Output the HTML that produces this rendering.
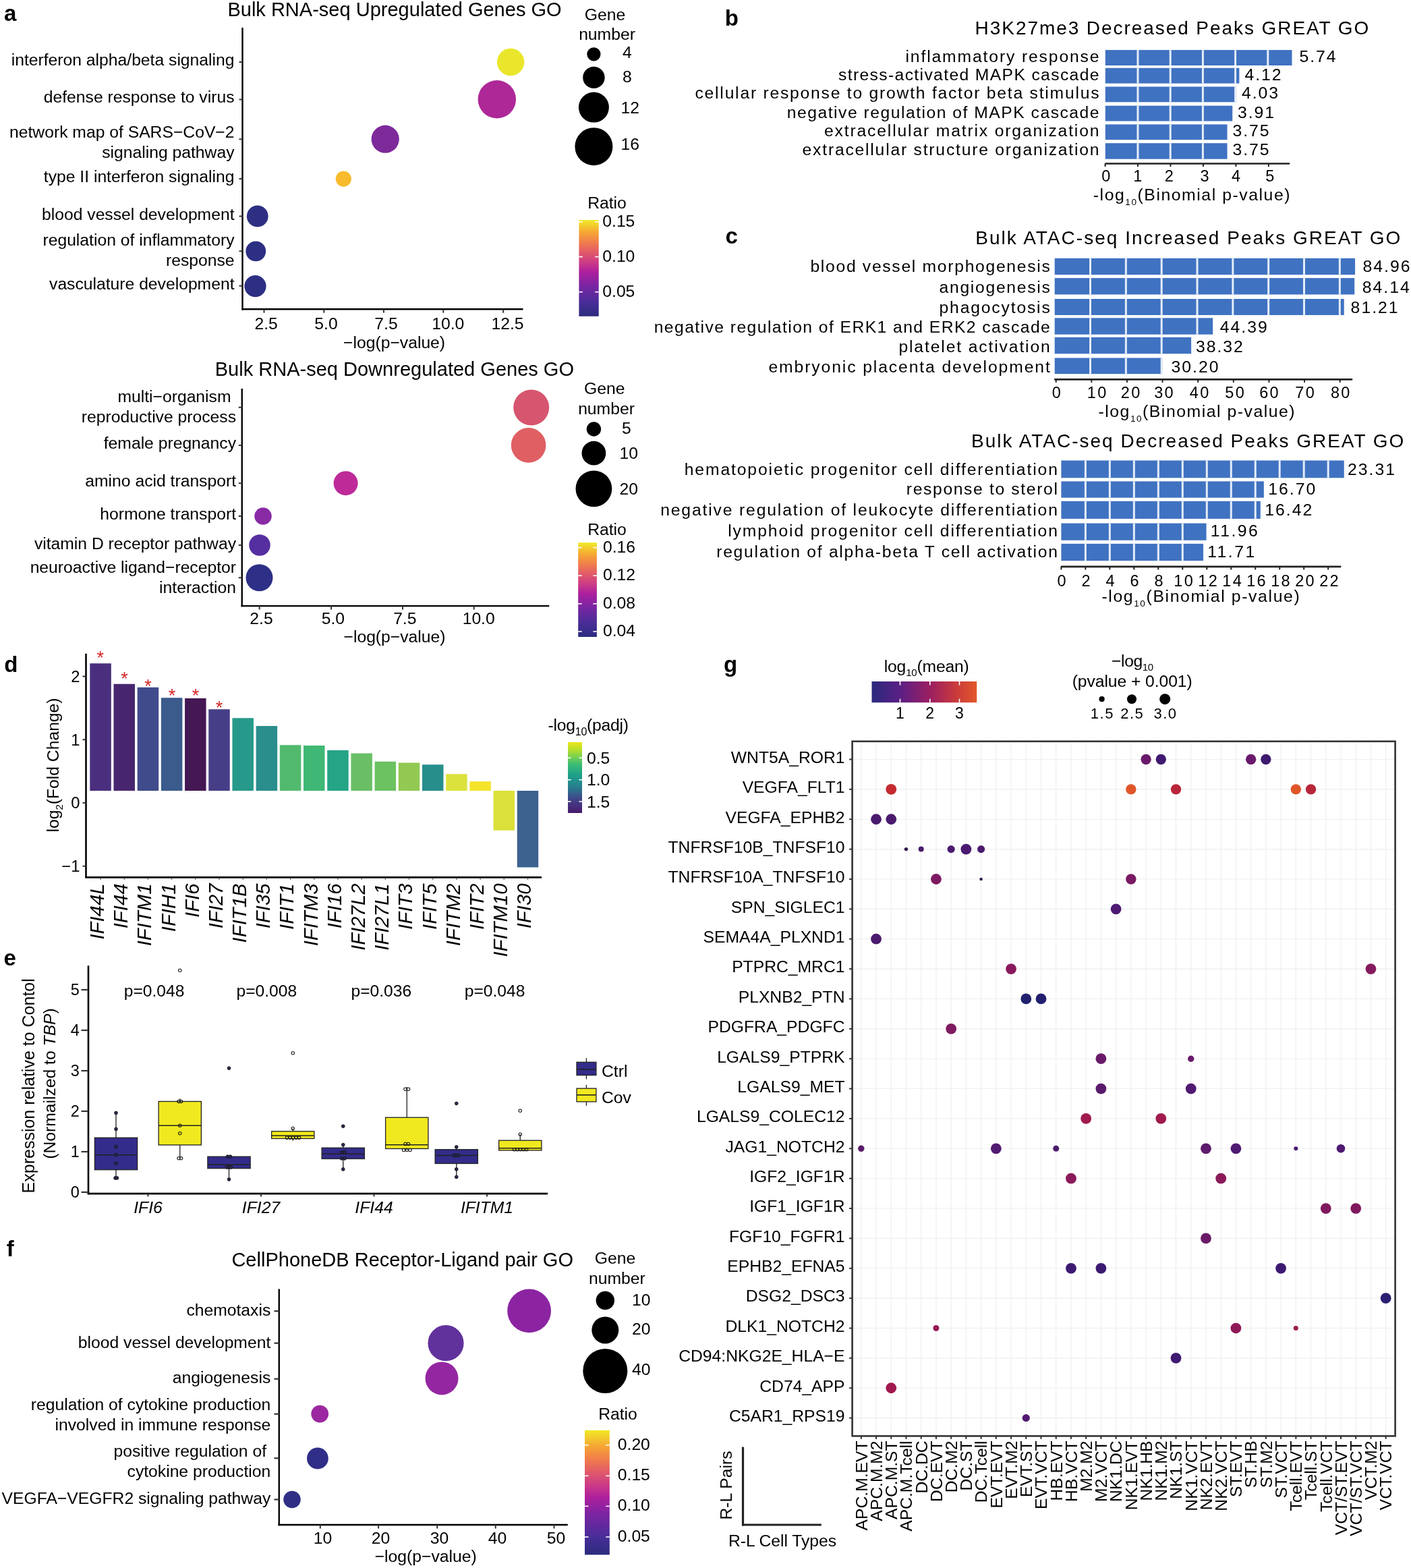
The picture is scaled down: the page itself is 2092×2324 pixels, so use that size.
<!DOCTYPE html>
<html><head><meta charset="utf-8"><title>Figure</title>
<style>
html,body{margin:0;padding:0;background:#fff;}
svg{display:block;}
</style></head>
<body>
<svg width="2092" height="2324" viewBox="0 0 2092 2324" font-family="'Liberation Sans', Arial, Helvetica, sans-serif" font-size="24.7" fill="#000" style="font-variant-ligatures:none;font-kerning:normal">
<rect width="2092" height="2324" fill="#fff"/>
<defs>
<linearGradient id="gRatio" x1="0" y1="1" x2="0" y2="0">
<stop offset="0" stop-color="#2b2c7e"/><stop offset="0.15" stop-color="#4a2d98"/>
<stop offset="0.32" stop-color="#7a25a2"/><stop offset="0.46" stop-color="#ae1f9e"/>
<stop offset="0.56" stop-color="#cc3b87"/><stop offset="0.66" stop-color="#e0586a"/>
<stop offset="0.76" stop-color="#f07a4e"/><stop offset="0.87" stop-color="#f6a535"/>
<stop offset="1" stop-color="#f0ea26"/></linearGradient>
<linearGradient id="gViridis" x1="0" y1="0" x2="0" y2="1">
<stop offset="0" stop-color="#eee520"/><stop offset="0.11" stop-color="#b5de2b"/>
<stop offset="0.226" stop-color="#6cce59"/><stop offset="0.319" stop-color="#3bbb75"/>
<stop offset="0.445" stop-color="#20a386"/><stop offset="0.528" stop-color="#1f958b"/>
<stop offset="0.654" stop-color="#2a788e"/><stop offset="0.762" stop-color="#3b528b"/>
<stop offset="0.829" stop-color="#433e85"/><stop offset="0.947" stop-color="#482576"/>
<stop offset="1" stop-color="#471a6d"/></linearGradient>
<linearGradient id="gMean" x1="0" y1="0" x2="1" y2="0">
<stop offset="0" stop-color="#2a2a7c"/><stop offset="0.27" stop-color="#5b1f84"/>
<stop offset="0.55" stop-color="#9a1f62"/><stop offset="0.8" stop-color="#c93a3c"/>
<stop offset="1" stop-color="#e3582a"/></linearGradient>
</defs>
<text x="6.00" y="30.50" font-size="33" style="font-weight:bold">a</text>
<text x="337.40" y="23.90" font-size="29" textLength="495.20" lengthAdjust="spacing">Bulk RNA-seq Upregulated Genes GO</text>
<line x1="359.50" y1="41.00" x2="359.50" y2="459.50" stroke="#000" stroke-width="2.4"/>
<line x1="358.30" y1="458.30" x2="775.50" y2="458.30" stroke="#000" stroke-width="2.4"/>
<line x1="354.50" y1="92.00" x2="359.50" y2="92.00" stroke="#333" stroke-width="2"/>
<line x1="354.50" y1="147.50" x2="359.50" y2="147.50" stroke="#333" stroke-width="2"/>
<line x1="354.50" y1="206.30" x2="359.50" y2="206.30" stroke="#333" stroke-width="2"/>
<line x1="354.50" y1="265.00" x2="359.50" y2="265.00" stroke="#333" stroke-width="2"/>
<line x1="354.50" y1="320.50" x2="359.50" y2="320.50" stroke="#333" stroke-width="2"/>
<line x1="354.50" y1="372.30" x2="359.50" y2="372.30" stroke="#333" stroke-width="2"/>
<line x1="354.50" y1="423.70" x2="359.50" y2="423.70" stroke="#333" stroke-width="2"/>
<text x="347.50" y="97.00" text-anchor="end">interferon alpha/beta signaling</text>
<text x="347.50" y="152.00" text-anchor="end">defense response to virus</text>
<text x="347.50" y="203.75" text-anchor="end">network map of SARS−CoV−2</text>
<text x="347.50" y="233.75" text-anchor="end">signaling pathway</text>
<text x="347.50" y="270.00" text-anchor="end">type II interferon signaling</text>
<text x="347.50" y="326.25" text-anchor="end">blood vessel development</text>
<text x="347.50" y="363.75" text-anchor="end">regulation of inflammatory</text>
<text x="347.50" y="393.75" text-anchor="end">response</text>
<text x="347.50" y="428.75" text-anchor="end">vasculature development</text>
<line x1="391.50" y1="458.30" x2="391.50" y2="463.70" stroke="#333" stroke-width="2"/>
<text x="394.60" y="488.30" text-anchor="middle">2.5</text>
<line x1="480.30" y1="458.30" x2="480.30" y2="463.70" stroke="#333" stroke-width="2"/>
<text x="483.50" y="488.30" text-anchor="middle">5.0</text>
<line x1="568.90" y1="458.30" x2="568.90" y2="463.70" stroke="#333" stroke-width="2"/>
<text x="572.50" y="488.30" text-anchor="middle">7.5</text>
<line x1="657.30" y1="458.30" x2="657.30" y2="463.70" stroke="#333" stroke-width="2"/>
<text x="664.30" y="488.30" text-anchor="middle">10.0</text>
<line x1="746.20" y1="458.30" x2="746.20" y2="463.70" stroke="#333" stroke-width="2"/>
<text x="752.50" y="488.30" text-anchor="middle">12.5</text>
<text x="584.60" y="515.60" text-anchor="middle">−log(p−value)</text>
<circle cx="757.10" cy="92.00" r="20.20" fill="#e9e62c"/>
<circle cx="736.80" cy="147.30" r="28.20" fill="#ae2898"/>
<circle cx="571.20" cy="206.20" r="20.60" fill="#7e2a9b"/>
<circle cx="509.30" cy="265.10" r="11.60" fill="#f8bb2c"/>
<circle cx="381.75" cy="320.50" r="15.90" fill="#2d2f83"/>
<circle cx="379.25" cy="372.40" r="14.90" fill="#2d2f83"/>
<circle cx="378.50" cy="424.20" r="16.10" fill="#2d2f83"/>
<text x="897.00" y="29.50" text-anchor="middle">Gene</text>
<text x="900.00" y="58.90" text-anchor="middle">number</text>
<circle cx="880.40" cy="80.30" r="10.10" fill="#000"/>
<text x="923.00" y="85.60">4</text>
<circle cx="880.40" cy="114.90" r="16.20" fill="#000"/>
<text x="923.00" y="122.20">8</text>
<circle cx="880.40" cy="159.10" r="22.50" fill="#000"/>
<text x="920.50" y="167.60">12</text>
<circle cx="880.40" cy="217.20" r="28.00" fill="#000"/>
<text x="920.50" y="221.60">16</text>
<text x="900.00" y="309.00" text-anchor="middle">Ratio</text>
<rect x="858.40" y="326.10" width="29.30" height="142.70" fill="url(#gRatio)"/>
<line x1="858.40" y1="328.80" x2="863.90" y2="328.80" stroke="#fff" stroke-width="1.6"/>
<line x1="882.20" y1="328.80" x2="887.70" y2="328.80" stroke="#fff" stroke-width="1.6"/>
<text x="893.30" y="335.70">0.15</text>
<line x1="858.40" y1="380.60" x2="863.90" y2="380.60" stroke="#fff" stroke-width="1.6"/>
<line x1="882.20" y1="380.60" x2="887.70" y2="380.60" stroke="#fff" stroke-width="1.6"/>
<text x="893.30" y="387.50">0.10</text>
<line x1="858.40" y1="432.70" x2="863.90" y2="432.70" stroke="#fff" stroke-width="1.6"/>
<line x1="882.20" y1="432.70" x2="887.70" y2="432.70" stroke="#fff" stroke-width="1.6"/>
<text x="893.30" y="439.60">0.05</text>
<text x="318.75" y="557.00" font-size="29" textLength="532.25" lengthAdjust="spacing">Bulk RNA-seq Downregulated Genes GO</text>
<line x1="358.75" y1="576.00" x2="358.75" y2="899.30" stroke="#000" stroke-width="2.4"/>
<line x1="357.50" y1="898.10" x2="814.20" y2="898.10" stroke="#000" stroke-width="2.4"/>
<line x1="353.75" y1="603.75" x2="358.75" y2="603.75" stroke="#333" stroke-width="2"/>
<line x1="353.75" y1="660.00" x2="358.75" y2="660.00" stroke="#333" stroke-width="2"/>
<line x1="353.75" y1="716.25" x2="358.75" y2="716.25" stroke="#333" stroke-width="2"/>
<line x1="353.75" y1="765.00" x2="358.75" y2="765.00" stroke="#333" stroke-width="2"/>
<line x1="353.75" y1="808.00" x2="358.75" y2="808.00" stroke="#333" stroke-width="2"/>
<line x1="353.75" y1="856.25" x2="358.75" y2="856.25" stroke="#333" stroke-width="2"/>
<text x="342.50" y="596.25" text-anchor="end">multi−organism</text>
<text x="350.00" y="626.25" text-anchor="end">reproductive process</text>
<text x="350.00" y="665.00" text-anchor="end">female pregnancy</text>
<text x="350.00" y="721.25" text-anchor="end">amino acid transport</text>
<text x="350.00" y="770.00" text-anchor="end">hormone transport</text>
<text x="350.00" y="813.75" text-anchor="end">vitamin D receptor pathway</text>
<text x="350.00" y="848.75" text-anchor="end">neuroactive ligand−receptor</text>
<text x="350.00" y="878.75" text-anchor="end">interaction</text>
<line x1="384.70" y1="898.10" x2="384.70" y2="903.50" stroke="#333" stroke-width="2"/>
<text x="387.50" y="924.50" text-anchor="middle">2.5</text>
<line x1="491.10" y1="898.10" x2="491.10" y2="903.50" stroke="#333" stroke-width="2"/>
<text x="493.90" y="924.50" text-anchor="middle">5.0</text>
<line x1="597.00" y1="898.10" x2="597.00" y2="903.50" stroke="#333" stroke-width="2"/>
<text x="600.30" y="924.50" text-anchor="middle">7.5</text>
<line x1="702.70" y1="898.10" x2="702.70" y2="903.50" stroke="#333" stroke-width="2"/>
<text x="709.70" y="924.50" text-anchor="middle">10.0</text>
<text x="585.00" y="951.80" text-anchor="middle">−log(p−value)</text>
<circle cx="787.70" cy="603.90" r="26.50" fill="#d6566f"/>
<circle cx="783.60" cy="659.90" r="25.80" fill="#df5f62"/>
<circle cx="512.60" cy="716.20" r="18.00" fill="#be2b99"/>
<circle cx="390.00" cy="765.00" r="12.75" fill="#8a2ba6"/>
<circle cx="385.00" cy="808.00" r="15.75" fill="#552ea0"/>
<circle cx="384.50" cy="856.25" r="20.00" fill="#2e2f86"/>
<text x="896.30" y="584.40" text-anchor="middle">Gene</text>
<text x="899.00" y="613.90" text-anchor="middle">number</text>
<circle cx="880.40" cy="636.00" r="10.70" fill="#000"/>
<text x="922.00" y="643.30">5</text>
<circle cx="880.40" cy="671.70" r="17.90" fill="#000"/>
<text x="918.50" y="680.00">10</text>
<circle cx="880.40" cy="724.30" r="26.90" fill="#000"/>
<text x="918.50" y="732.80">20</text>
<text x="900.00" y="792.50" text-anchor="middle">Ratio</text>
<rect x="857.20" y="804.20" width="27.70" height="139.80" fill="url(#gRatio)"/>
<line x1="857.20" y1="811.60" x2="862.70" y2="811.60" stroke="#fff" stroke-width="1.6"/>
<line x1="879.40" y1="811.60" x2="884.90" y2="811.60" stroke="#fff" stroke-width="1.6"/>
<text x="894.00" y="818.50">0.16</text>
<line x1="857.20" y1="853.20" x2="862.70" y2="853.20" stroke="#fff" stroke-width="1.6"/>
<line x1="879.40" y1="853.20" x2="884.90" y2="853.20" stroke="#fff" stroke-width="1.6"/>
<text x="894.00" y="860.10">0.12</text>
<line x1="857.20" y1="894.80" x2="862.70" y2="894.80" stroke="#fff" stroke-width="1.6"/>
<line x1="879.40" y1="894.80" x2="884.90" y2="894.80" stroke="#fff" stroke-width="1.6"/>
<text x="894.00" y="901.70">0.08</text>
<line x1="857.20" y1="936.00" x2="862.70" y2="936.00" stroke="#fff" stroke-width="1.6"/>
<line x1="879.40" y1="936.00" x2="884.90" y2="936.00" stroke="#fff" stroke-width="1.6"/>
<text x="894.00" y="942.90">0.04</text>
<text x="1074.80" y="37.50" font-size="33" style="font-weight:bold">b</text>
<text x="1445.60" y="50.60" font-size="28" textLength="583.70" lengthAdjust="spacing">H3K27me3 Decreased Peaks GREAT GO</text>
<rect x="1638.80" y="74.10" width="276.67" height="22.90" fill="#3f72c1"/>
<line x1="1687.00" y1="74.10" x2="1687.00" y2="97.00" stroke="#e4ecf8" stroke-width="3"/>
<line x1="1735.20" y1="74.10" x2="1735.20" y2="97.00" stroke="#e4ecf8" stroke-width="3"/>
<line x1="1783.40" y1="74.10" x2="1783.40" y2="97.00" stroke="#e4ecf8" stroke-width="3"/>
<line x1="1831.60" y1="74.10" x2="1831.60" y2="97.00" stroke="#e4ecf8" stroke-width="3"/>
<line x1="1879.80" y1="74.10" x2="1879.80" y2="97.00" stroke="#e4ecf8" stroke-width="3"/>
<text x="1342.50" y="92.40" textLength="287.00" lengthAdjust="spacing">inflammatory response</text>
<text x="1926.60" y="92.40" font-size="24.8" textLength="54.00" lengthAdjust="spacing">5.74</text>
<rect x="1638.80" y="100.80" width="198.58" height="22.80" fill="#3f72c1"/>
<line x1="1687.00" y1="100.80" x2="1687.00" y2="123.60" stroke="#e4ecf8" stroke-width="3"/>
<line x1="1735.20" y1="100.80" x2="1735.20" y2="123.60" stroke="#e4ecf8" stroke-width="3"/>
<line x1="1783.40" y1="100.80" x2="1783.40" y2="123.60" stroke="#e4ecf8" stroke-width="3"/>
<line x1="1831.60" y1="100.80" x2="1831.60" y2="123.60" stroke="#e4ecf8" stroke-width="3"/>
<text x="1243.00" y="118.60" textLength="386.50" lengthAdjust="spacing">stress-activated MAPK cascade</text>
<text x="1845.60" y="118.60" font-size="24.8" textLength="54.00" lengthAdjust="spacing">4.12</text>
<rect x="1638.80" y="128.50" width="194.25" height="22.80" fill="#3f72c1"/>
<line x1="1687.00" y1="128.50" x2="1687.00" y2="151.30" stroke="#e4ecf8" stroke-width="3"/>
<line x1="1735.20" y1="128.50" x2="1735.20" y2="151.30" stroke="#e4ecf8" stroke-width="3"/>
<line x1="1783.40" y1="128.50" x2="1783.40" y2="151.30" stroke="#e4ecf8" stroke-width="3"/>
<line x1="1831.60" y1="128.50" x2="1831.60" y2="151.30" stroke="#e4ecf8" stroke-width="3"/>
<text x="1030.50" y="146.40" textLength="599.00" lengthAdjust="spacing">cellular response to growth factor beta stimulus</text>
<text x="1841.00" y="146.40" font-size="24.8" textLength="54.00" lengthAdjust="spacing">4.03</text>
<rect x="1638.80" y="156.70" width="188.46" height="22.80" fill="#3f72c1"/>
<line x1="1687.00" y1="156.70" x2="1687.00" y2="179.50" stroke="#e4ecf8" stroke-width="3"/>
<line x1="1735.20" y1="156.70" x2="1735.20" y2="179.50" stroke="#e4ecf8" stroke-width="3"/>
<line x1="1783.40" y1="156.70" x2="1783.40" y2="179.50" stroke="#e4ecf8" stroke-width="3"/>
<text x="1166.80" y="174.90" textLength="462.70" lengthAdjust="spacing">negative regulation of MAPK cascade</text>
<text x="1835.00" y="174.90" font-size="24.8" textLength="54.00" lengthAdjust="spacing">3.91</text>
<rect x="1638.80" y="184.40" width="180.75" height="22.80" fill="#3f72c1"/>
<line x1="1687.00" y1="184.40" x2="1687.00" y2="207.20" stroke="#e4ecf8" stroke-width="3"/>
<line x1="1735.20" y1="184.40" x2="1735.20" y2="207.20" stroke="#e4ecf8" stroke-width="3"/>
<line x1="1783.40" y1="184.40" x2="1783.40" y2="207.20" stroke="#e4ecf8" stroke-width="3"/>
<text x="1222.00" y="201.50" textLength="407.50" lengthAdjust="spacing">extracellular matrix organization</text>
<text x="1827.50" y="201.50" font-size="24.8" textLength="54.00" lengthAdjust="spacing">3.75</text>
<rect x="1638.80" y="212.20" width="180.75" height="23.50" fill="#3f72c1"/>
<line x1="1687.00" y1="212.20" x2="1687.00" y2="235.70" stroke="#e4ecf8" stroke-width="3"/>
<line x1="1735.20" y1="212.20" x2="1735.20" y2="235.70" stroke="#e4ecf8" stroke-width="3"/>
<line x1="1783.40" y1="212.20" x2="1783.40" y2="235.70" stroke="#e4ecf8" stroke-width="3"/>
<text x="1189.60" y="230.00" textLength="439.90" lengthAdjust="spacing">extracellular structure organization</text>
<text x="1827.50" y="230.00" font-size="24.8" textLength="54.00" lengthAdjust="spacing">3.75</text>
<line x1="1638.30" y1="242.50" x2="1912.20" y2="242.50" stroke="#222" stroke-width="2.6"/>
<line x1="1638.60" y1="242.50" x2="1638.60" y2="247.00" stroke="#222" stroke-width="2"/>
<text x="1639.80" y="268.80" font-size="23.5" text-anchor="middle">0</text>
<line x1="1687.05" y1="242.50" x2="1687.05" y2="247.00" stroke="#222" stroke-width="2"/>
<text x="1686.80" y="268.80" font-size="23.5" text-anchor="middle">1</text>
<line x1="1735.50" y1="242.50" x2="1735.50" y2="247.00" stroke="#222" stroke-width="2"/>
<text x="1733.40" y="268.80" font-size="23.5" text-anchor="middle">2</text>
<line x1="1783.95" y1="242.50" x2="1783.95" y2="247.00" stroke="#222" stroke-width="2"/>
<text x="1786.10" y="268.80" font-size="23.5" text-anchor="middle">3</text>
<line x1="1832.40" y1="242.50" x2="1832.40" y2="247.00" stroke="#222" stroke-width="2"/>
<text x="1832.60" y="268.80" font-size="23.5" text-anchor="middle">4</text>
<line x1="1880.85" y1="242.50" x2="1880.85" y2="247.00" stroke="#222" stroke-width="2"/>
<text x="1882.90" y="268.80" font-size="23.5" text-anchor="middle">5</text>
<text x="1620.80" y="296.90" font-size="24.8" textLength="291.70" lengthAdjust="spacing">-log<tspan font-size="13.6" dy="7">10</tspan><tspan dy="-7">(Binomial p-value)</tspan></text>
<text x="1075.50" y="361.00" font-size="33" style="font-weight:bold">c</text>
<text x="1446.30" y="361.60" font-size="28" textLength="630.10" lengthAdjust="spacing">Bulk ATAC-seq Increased Peaks GREAT GO</text>
<rect x="1563.70" y="382.80" width="445.36" height="24.40" fill="#3f72c1"/>
<line x1="1616.53" y1="382.80" x2="1616.53" y2="407.20" stroke="#e4ecf8" stroke-width="3"/>
<line x1="1669.36" y1="382.80" x2="1669.36" y2="407.20" stroke="#e4ecf8" stroke-width="3"/>
<line x1="1722.19" y1="382.80" x2="1722.19" y2="407.20" stroke="#e4ecf8" stroke-width="3"/>
<line x1="1775.02" y1="382.80" x2="1775.02" y2="407.20" stroke="#e4ecf8" stroke-width="3"/>
<line x1="1827.85" y1="382.80" x2="1827.85" y2="407.20" stroke="#e4ecf8" stroke-width="3"/>
<line x1="1880.68" y1="382.80" x2="1880.68" y2="407.20" stroke="#e4ecf8" stroke-width="3"/>
<line x1="1933.51" y1="382.80" x2="1933.51" y2="407.20" stroke="#e4ecf8" stroke-width="3"/>
<line x1="1986.34" y1="382.80" x2="1986.34" y2="407.20" stroke="#e4ecf8" stroke-width="3"/>
<text x="1201.40" y="402.60" textLength="355.40" lengthAdjust="spacing">blood vessel morphogenesis</text>
<text x="2020.50" y="402.60" font-size="24.8" textLength="70.00" lengthAdjust="spacing">84.96</text>
<rect x="1563.70" y="412.10" width="444.51" height="24.40" fill="#3f72c1"/>
<line x1="1616.53" y1="412.10" x2="1616.53" y2="436.50" stroke="#e4ecf8" stroke-width="3"/>
<line x1="1669.36" y1="412.10" x2="1669.36" y2="436.50" stroke="#e4ecf8" stroke-width="3"/>
<line x1="1722.19" y1="412.10" x2="1722.19" y2="436.50" stroke="#e4ecf8" stroke-width="3"/>
<line x1="1775.02" y1="412.10" x2="1775.02" y2="436.50" stroke="#e4ecf8" stroke-width="3"/>
<line x1="1827.85" y1="412.10" x2="1827.85" y2="436.50" stroke="#e4ecf8" stroke-width="3"/>
<line x1="1880.68" y1="412.10" x2="1880.68" y2="436.50" stroke="#e4ecf8" stroke-width="3"/>
<line x1="1933.51" y1="412.10" x2="1933.51" y2="436.50" stroke="#e4ecf8" stroke-width="3"/>
<line x1="1986.34" y1="412.10" x2="1986.34" y2="436.50" stroke="#e4ecf8" stroke-width="3"/>
<text x="1392.50" y="434.00" textLength="164.30" lengthAdjust="spacing">angiogenesis</text>
<text x="2019.80" y="434.00" font-size="24.8" textLength="70.00" lengthAdjust="spacing">84.14</text>
<rect x="1563.70" y="443.00" width="429.03" height="24.00" fill="#3f72c1"/>
<line x1="1616.53" y1="443.00" x2="1616.53" y2="467.00" stroke="#e4ecf8" stroke-width="3"/>
<line x1="1669.36" y1="443.00" x2="1669.36" y2="467.00" stroke="#e4ecf8" stroke-width="3"/>
<line x1="1722.19" y1="443.00" x2="1722.19" y2="467.00" stroke="#e4ecf8" stroke-width="3"/>
<line x1="1775.02" y1="443.00" x2="1775.02" y2="467.00" stroke="#e4ecf8" stroke-width="3"/>
<line x1="1827.85" y1="443.00" x2="1827.85" y2="467.00" stroke="#e4ecf8" stroke-width="3"/>
<line x1="1880.68" y1="443.00" x2="1880.68" y2="467.00" stroke="#e4ecf8" stroke-width="3"/>
<line x1="1933.51" y1="443.00" x2="1933.51" y2="467.00" stroke="#e4ecf8" stroke-width="3"/>
<line x1="1986.34" y1="443.00" x2="1986.34" y2="467.00" stroke="#e4ecf8" stroke-width="3"/>
<text x="1392.50" y="464.40" textLength="164.30" lengthAdjust="spacing">phagocytosis</text>
<text x="2002.60" y="464.40" font-size="24.8" textLength="70.00" lengthAdjust="spacing">81.21</text>
<rect x="1563.70" y="471.30" width="234.51" height="24.40" fill="#3f72c1"/>
<line x1="1616.53" y1="471.30" x2="1616.53" y2="495.70" stroke="#e4ecf8" stroke-width="3"/>
<line x1="1669.36" y1="471.30" x2="1669.36" y2="495.70" stroke="#e4ecf8" stroke-width="3"/>
<line x1="1722.19" y1="471.30" x2="1722.19" y2="495.70" stroke="#e4ecf8" stroke-width="3"/>
<line x1="1775.02" y1="471.30" x2="1775.02" y2="495.70" stroke="#e4ecf8" stroke-width="3"/>
<text x="969.70" y="492.80" textLength="587.10" lengthAdjust="spacing">negative regulation of ERK1 and ERK2 cascade</text>
<text x="1808.70" y="492.80" font-size="24.8" textLength="70.00" lengthAdjust="spacing">44.39</text>
<rect x="1563.70" y="499.90" width="202.44" height="24.40" fill="#3f72c1"/>
<line x1="1616.53" y1="499.90" x2="1616.53" y2="524.30" stroke="#e4ecf8" stroke-width="3"/>
<line x1="1669.36" y1="499.90" x2="1669.36" y2="524.30" stroke="#e4ecf8" stroke-width="3"/>
<line x1="1722.19" y1="499.90" x2="1722.19" y2="524.30" stroke="#e4ecf8" stroke-width="3"/>
<text x="1332.40" y="521.80" textLength="224.40" lengthAdjust="spacing">platelet activation</text>
<text x="1772.90" y="521.80" font-size="24.8" textLength="70.00" lengthAdjust="spacing">38.32</text>
<rect x="1563.70" y="530.50" width="159.55" height="23.70" fill="#3f72c1"/>
<line x1="1616.53" y1="530.50" x2="1616.53" y2="554.20" stroke="#e4ecf8" stroke-width="3"/>
<line x1="1669.36" y1="530.50" x2="1669.36" y2="554.20" stroke="#e4ecf8" stroke-width="3"/>
<line x1="1722.19" y1="530.50" x2="1722.19" y2="554.20" stroke="#e4ecf8" stroke-width="3"/>
<text x="1139.40" y="552.30" textLength="417.40" lengthAdjust="spacing">embryonic placenta development</text>
<text x="1736.50" y="552.30" font-size="24.8" textLength="70.00" lengthAdjust="spacing">30.20</text>
<line x1="1563.20" y1="562.40" x2="2005.20" y2="562.40" stroke="#222" stroke-width="2.6"/>
<line x1="1565.70" y1="562.40" x2="1565.70" y2="566.90" stroke="#222" stroke-width="2"/>
<text x="1566.20" y="589.60" font-size="23.5" text-anchor="middle">0</text>
<line x1="1618.33" y1="562.40" x2="1618.33" y2="566.90" stroke="#222" stroke-width="2"/>
<text x="1626.00" y="589.60" font-size="23.5" text-anchor="middle" textLength="28.50" lengthAdjust="spacing">10</text>
<line x1="1670.95" y1="562.40" x2="1670.95" y2="566.90" stroke="#222" stroke-width="2"/>
<text x="1676.10" y="589.60" font-size="23.5" text-anchor="middle" textLength="28.50" lengthAdjust="spacing">20</text>
<line x1="1723.58" y1="562.40" x2="1723.58" y2="566.90" stroke="#222" stroke-width="2"/>
<text x="1725.40" y="589.60" font-size="23.5" text-anchor="middle" textLength="28.50" lengthAdjust="spacing">30</text>
<line x1="1776.20" y1="562.40" x2="1776.20" y2="566.90" stroke="#222" stroke-width="2"/>
<text x="1778.10" y="589.60" font-size="23.5" text-anchor="middle" textLength="28.50" lengthAdjust="spacing">40</text>
<line x1="1828.83" y1="562.40" x2="1828.83" y2="566.90" stroke="#222" stroke-width="2"/>
<text x="1830.50" y="589.60" font-size="23.5" text-anchor="middle" textLength="28.50" lengthAdjust="spacing">50</text>
<line x1="1881.45" y1="562.40" x2="1881.45" y2="566.90" stroke="#222" stroke-width="2"/>
<text x="1881.40" y="589.60" font-size="23.5" text-anchor="middle" textLength="28.50" lengthAdjust="spacing">60</text>
<line x1="1934.08" y1="562.40" x2="1934.08" y2="566.90" stroke="#222" stroke-width="2"/>
<text x="1934.50" y="589.60" font-size="23.5" text-anchor="middle" textLength="28.50" lengthAdjust="spacing">70</text>
<line x1="1986.70" y1="562.40" x2="1986.70" y2="566.90" stroke="#222" stroke-width="2"/>
<text x="1987.20" y="589.60" font-size="23.5" text-anchor="middle" textLength="28.50" lengthAdjust="spacing">80</text>
<text x="1628.50" y="617.70" font-size="24.8" textLength="291.10" lengthAdjust="spacing">-log<tspan font-size="13.6" dy="7">10</tspan><tspan dy="-7">(Binomial p-value)</tspan></text>
<text x="1440.00" y="662.80" font-size="28" textLength="641.40" lengthAdjust="spacing">Bulk ATAC-seq Decreased Peaks GREAT GO</text>
<rect x="1573.40" y="682.50" width="419.35" height="25.80" fill="#3f72c1"/>
<line x1="1609.38" y1="682.50" x2="1609.38" y2="708.30" stroke="#e4ecf8" stroke-width="3"/>
<line x1="1645.36" y1="682.50" x2="1645.36" y2="708.30" stroke="#e4ecf8" stroke-width="3"/>
<line x1="1681.34" y1="682.50" x2="1681.34" y2="708.30" stroke="#e4ecf8" stroke-width="3"/>
<line x1="1717.32" y1="682.50" x2="1717.32" y2="708.30" stroke="#e4ecf8" stroke-width="3"/>
<line x1="1753.30" y1="682.50" x2="1753.30" y2="708.30" stroke="#e4ecf8" stroke-width="3"/>
<line x1="1789.28" y1="682.50" x2="1789.28" y2="708.30" stroke="#e4ecf8" stroke-width="3"/>
<line x1="1825.26" y1="682.50" x2="1825.26" y2="708.30" stroke="#e4ecf8" stroke-width="3"/>
<line x1="1861.24" y1="682.50" x2="1861.24" y2="708.30" stroke="#e4ecf8" stroke-width="3"/>
<line x1="1897.22" y1="682.50" x2="1897.22" y2="708.30" stroke="#e4ecf8" stroke-width="3"/>
<line x1="1933.20" y1="682.50" x2="1933.20" y2="708.30" stroke="#e4ecf8" stroke-width="3"/>
<line x1="1969.18" y1="682.50" x2="1969.18" y2="708.30" stroke="#e4ecf8" stroke-width="3"/>
<text x="1014.70" y="703.70" textLength="553.20" lengthAdjust="spacing">hematopoietic progenitor cell differentiation</text>
<text x="1998.00" y="703.70" font-size="24.8" textLength="70.00" lengthAdjust="spacing">23.31</text>
<rect x="1573.40" y="713.40" width="300.43" height="24.30" fill="#3f72c1"/>
<line x1="1609.38" y1="713.40" x2="1609.38" y2="737.70" stroke="#e4ecf8" stroke-width="3"/>
<line x1="1645.36" y1="713.40" x2="1645.36" y2="737.70" stroke="#e4ecf8" stroke-width="3"/>
<line x1="1681.34" y1="713.40" x2="1681.34" y2="737.70" stroke="#e4ecf8" stroke-width="3"/>
<line x1="1717.32" y1="713.40" x2="1717.32" y2="737.70" stroke="#e4ecf8" stroke-width="3"/>
<line x1="1753.30" y1="713.40" x2="1753.30" y2="737.70" stroke="#e4ecf8" stroke-width="3"/>
<line x1="1789.28" y1="713.40" x2="1789.28" y2="737.70" stroke="#e4ecf8" stroke-width="3"/>
<line x1="1825.26" y1="713.40" x2="1825.26" y2="737.70" stroke="#e4ecf8" stroke-width="3"/>
<line x1="1861.24" y1="713.40" x2="1861.24" y2="737.70" stroke="#e4ecf8" stroke-width="3"/>
<text x="1343.80" y="733.10" textLength="224.10" lengthAdjust="spacing">response to sterol</text>
<text x="1880.30" y="733.10" font-size="24.8" textLength="70.00" lengthAdjust="spacing">16.70</text>
<rect x="1573.40" y="742.80" width="295.40" height="26.10" fill="#3f72c1"/>
<line x1="1609.38" y1="742.80" x2="1609.38" y2="768.90" stroke="#e4ecf8" stroke-width="3"/>
<line x1="1645.36" y1="742.80" x2="1645.36" y2="768.90" stroke="#e4ecf8" stroke-width="3"/>
<line x1="1681.34" y1="742.80" x2="1681.34" y2="768.90" stroke="#e4ecf8" stroke-width="3"/>
<line x1="1717.32" y1="742.80" x2="1717.32" y2="768.90" stroke="#e4ecf8" stroke-width="3"/>
<line x1="1753.30" y1="742.80" x2="1753.30" y2="768.90" stroke="#e4ecf8" stroke-width="3"/>
<line x1="1789.28" y1="742.80" x2="1789.28" y2="768.90" stroke="#e4ecf8" stroke-width="3"/>
<line x1="1825.26" y1="742.80" x2="1825.26" y2="768.90" stroke="#e4ecf8" stroke-width="3"/>
<line x1="1861.24" y1="742.80" x2="1861.24" y2="768.90" stroke="#e4ecf8" stroke-width="3"/>
<text x="979.20" y="763.50" textLength="588.70" lengthAdjust="spacing">negative regulation of leukocyte differentiation</text>
<text x="1875.20" y="763.50" font-size="24.8" textLength="70.00" lengthAdjust="spacing">16.42</text>
<rect x="1573.40" y="775.60" width="215.16" height="25.20" fill="#3f72c1"/>
<line x1="1609.38" y1="775.60" x2="1609.38" y2="800.80" stroke="#e4ecf8" stroke-width="3"/>
<line x1="1645.36" y1="775.60" x2="1645.36" y2="800.80" stroke="#e4ecf8" stroke-width="3"/>
<line x1="1681.34" y1="775.60" x2="1681.34" y2="800.80" stroke="#e4ecf8" stroke-width="3"/>
<line x1="1717.32" y1="775.60" x2="1717.32" y2="800.80" stroke="#e4ecf8" stroke-width="3"/>
<line x1="1753.30" y1="775.60" x2="1753.30" y2="800.80" stroke="#e4ecf8" stroke-width="3"/>
<text x="1079.20" y="795.30" textLength="488.70" lengthAdjust="spacing">lymphoid progenitor cell differentiation</text>
<text x="1794.80" y="795.30" font-size="24.8" textLength="70.00" lengthAdjust="spacing">11.96</text>
<rect x="1573.40" y="805.90" width="210.66" height="25.20" fill="#3f72c1"/>
<line x1="1609.38" y1="805.90" x2="1609.38" y2="831.10" stroke="#e4ecf8" stroke-width="3"/>
<line x1="1645.36" y1="805.90" x2="1645.36" y2="831.10" stroke="#e4ecf8" stroke-width="3"/>
<line x1="1681.34" y1="805.90" x2="1681.34" y2="831.10" stroke="#e4ecf8" stroke-width="3"/>
<line x1="1717.32" y1="805.90" x2="1717.32" y2="831.10" stroke="#e4ecf8" stroke-width="3"/>
<line x1="1753.30" y1="805.90" x2="1753.30" y2="831.10" stroke="#e4ecf8" stroke-width="3"/>
<text x="1062.20" y="825.60" textLength="505.70" lengthAdjust="spacing">regulation of alpha-beta T cell activation</text>
<text x="1790.20" y="825.60" font-size="24.8" textLength="70.00" lengthAdjust="spacing">11.71</text>
<line x1="1572.90" y1="839.90" x2="1988.30" y2="839.90" stroke="#222" stroke-width="2.6"/>
<line x1="1573.40" y1="839.90" x2="1573.40" y2="844.40" stroke="#222" stroke-width="2"/>
<text x="1574.00" y="868.80" font-size="23.5" text-anchor="middle">0</text>
<line x1="1609.38" y1="839.90" x2="1609.38" y2="844.40" stroke="#222" stroke-width="2"/>
<text x="1609.98" y="868.80" font-size="23.5" text-anchor="middle">2</text>
<line x1="1645.36" y1="839.90" x2="1645.36" y2="844.40" stroke="#222" stroke-width="2"/>
<text x="1645.96" y="868.80" font-size="23.5" text-anchor="middle">4</text>
<line x1="1681.34" y1="839.90" x2="1681.34" y2="844.40" stroke="#222" stroke-width="2"/>
<text x="1681.94" y="868.80" font-size="23.5" text-anchor="middle">6</text>
<line x1="1717.32" y1="839.90" x2="1717.32" y2="844.40" stroke="#222" stroke-width="2"/>
<text x="1717.92" y="868.80" font-size="23.5" text-anchor="middle">8</text>
<line x1="1753.30" y1="839.90" x2="1753.30" y2="844.40" stroke="#222" stroke-width="2"/>
<text x="1754.50" y="868.80" font-size="23.5" text-anchor="middle" textLength="28.50" lengthAdjust="spacing">10</text>
<line x1="1789.28" y1="839.90" x2="1789.28" y2="844.40" stroke="#222" stroke-width="2"/>
<text x="1790.48" y="868.80" font-size="23.5" text-anchor="middle" textLength="28.50" lengthAdjust="spacing">12</text>
<line x1="1825.26" y1="839.90" x2="1825.26" y2="844.40" stroke="#222" stroke-width="2"/>
<text x="1826.46" y="868.80" font-size="23.5" text-anchor="middle" textLength="28.50" lengthAdjust="spacing">14</text>
<line x1="1861.24" y1="839.90" x2="1861.24" y2="844.40" stroke="#222" stroke-width="2"/>
<text x="1862.44" y="868.80" font-size="23.5" text-anchor="middle" textLength="28.50" lengthAdjust="spacing">16</text>
<line x1="1897.22" y1="839.90" x2="1897.22" y2="844.40" stroke="#222" stroke-width="2"/>
<text x="1898.42" y="868.80" font-size="23.5" text-anchor="middle" textLength="28.50" lengthAdjust="spacing">18</text>
<line x1="1933.20" y1="839.90" x2="1933.20" y2="844.40" stroke="#222" stroke-width="2"/>
<text x="1934.40" y="868.80" font-size="23.5" text-anchor="middle" textLength="28.50" lengthAdjust="spacing">20</text>
<line x1="1969.18" y1="839.90" x2="1969.18" y2="844.40" stroke="#222" stroke-width="2"/>
<text x="1970.38" y="868.80" font-size="23.5" text-anchor="middle" textLength="28.50" lengthAdjust="spacing">22</text>
<text x="1633.40" y="892.40" font-size="24.8" textLength="293.30" lengthAdjust="spacing">-log<tspan font-size="13.6" dy="7">10</tspan><tspan dy="-7">(Binomial p-value)</tspan></text>
<text x="6.20" y="996.25" font-size="33" style="font-weight:bold">d</text>
<line x1="127.50" y1="968.75" x2="127.50" y2="1300.50" stroke="#000" stroke-width="2.6"/>
<line x1="126.30" y1="1300.40" x2="803.00" y2="1300.40" stroke="#000" stroke-width="2.6"/>
<line x1="122.50" y1="1002.50" x2="127.50" y2="1002.50" stroke="#333" stroke-width="2"/>
<text x="118.50" y="1010.90" font-size="23.8" text-anchor="end">2</text>
<line x1="122.50" y1="1096.25" x2="127.50" y2="1096.25" stroke="#333" stroke-width="2"/>
<text x="118.50" y="1104.65" font-size="23.8" text-anchor="end">1</text>
<line x1="122.50" y1="1190.00" x2="127.50" y2="1190.00" stroke="#333" stroke-width="2"/>
<text x="118.50" y="1198.40" font-size="23.8" text-anchor="end">0</text>
<line x1="122.50" y1="1283.75" x2="127.50" y2="1283.75" stroke="#333" stroke-width="2"/>
<text x="118.50" y="1292.15" font-size="23.8" text-anchor="end">−1</text>
<text transform="translate(87.3,1134) rotate(-90)" text-anchor="middle">log<tspan font-size="15" dy="6">2</tspan><tspan dy="-6">(Fold Change)</tspan></text>
<rect x="133.30" y="983.25" width="31.50" height="188.75" fill="#4a2f7f"/>
<line x1="149.05" y1="1301.50" x2="149.05" y2="1304.00" stroke="#666" stroke-width="1.4"/>
<text transform="translate(153.95,1309.5) rotate(-90)" text-anchor="end" font-size="29.3" style="font-style:italic">IFI44L</text>
<rect x="168.49" y="1013.75" width="31.50" height="158.25" fill="#48266f"/>
<line x1="184.24" y1="1301.50" x2="184.24" y2="1304.00" stroke="#666" stroke-width="1.4"/>
<text transform="translate(189.14,1309.5) rotate(-90)" text-anchor="end" font-size="29.3" style="font-style:italic">IFI44</text>
<rect x="203.68" y="1018.75" width="31.50" height="153.25" fill="#404b8c"/>
<line x1="219.43" y1="1301.50" x2="219.43" y2="1304.00" stroke="#666" stroke-width="1.4"/>
<text transform="translate(224.33,1309.5) rotate(-90)" text-anchor="end" font-size="29.3" style="font-style:italic">IFITM1</text>
<rect x="238.87" y="1034.25" width="31.50" height="137.75" fill="#3b5b8d"/>
<line x1="254.62" y1="1301.50" x2="254.62" y2="1304.00" stroke="#666" stroke-width="1.4"/>
<text transform="translate(259.52,1309.5) rotate(-90)" text-anchor="end" font-size="29.3" style="font-style:italic">IFIH1</text>
<rect x="274.06" y="1035.00" width="31.50" height="137.00" fill="#441853"/>
<line x1="289.81" y1="1301.50" x2="289.81" y2="1304.00" stroke="#666" stroke-width="1.4"/>
<text transform="translate(294.71,1309.5) rotate(-90)" text-anchor="end" font-size="29.3" style="font-style:italic">IFI6</text>
<rect x="309.25" y="1051.25" width="31.50" height="120.75" fill="#463f88"/>
<line x1="325.00" y1="1301.50" x2="325.00" y2="1304.00" stroke="#666" stroke-width="1.4"/>
<text transform="translate(329.90,1309.5) rotate(-90)" text-anchor="end" font-size="29.3" style="font-style:italic">IFI27</text>
<rect x="344.44" y="1064.25" width="31.50" height="107.75" fill="#27998a"/>
<line x1="360.19" y1="1301.50" x2="360.19" y2="1304.00" stroke="#666" stroke-width="1.4"/>
<text transform="translate(365.09,1309.5) rotate(-90)" text-anchor="end" font-size="29.3" style="font-style:italic">IFIT1B</text>
<rect x="379.63" y="1076.00" width="31.50" height="96.00" fill="#2a8e8d"/>
<line x1="395.38" y1="1301.50" x2="395.38" y2="1304.00" stroke="#666" stroke-width="1.4"/>
<text transform="translate(400.28,1309.5) rotate(-90)" text-anchor="end" font-size="29.3" style="font-style:italic">IFI35</text>
<rect x="414.82" y="1104.25" width="31.50" height="67.75" fill="#52ba6e"/>
<line x1="430.57" y1="1301.50" x2="430.57" y2="1304.00" stroke="#666" stroke-width="1.4"/>
<text transform="translate(435.47,1309.5) rotate(-90)" text-anchor="end" font-size="29.3" style="font-style:italic">IFIT1</text>
<rect x="450.01" y="1105.00" width="31.50" height="67.00" fill="#3fb875"/>
<line x1="465.76" y1="1301.50" x2="465.76" y2="1304.00" stroke="#666" stroke-width="1.4"/>
<text transform="translate(470.66,1309.5) rotate(-90)" text-anchor="end" font-size="29.3" style="font-style:italic">IFITM3</text>
<rect x="485.20" y="1112.00" width="31.50" height="60.00" fill="#25a486"/>
<line x1="500.95" y1="1301.50" x2="500.95" y2="1304.00" stroke="#666" stroke-width="1.4"/>
<text transform="translate(505.85,1309.5) rotate(-90)" text-anchor="end" font-size="29.3" style="font-style:italic">IFI16</text>
<rect x="520.39" y="1116.50" width="31.50" height="55.50" fill="#6abf66"/>
<line x1="536.14" y1="1301.50" x2="536.14" y2="1304.00" stroke="#666" stroke-width="1.4"/>
<text transform="translate(541.04,1309.5) rotate(-90)" text-anchor="end" font-size="29.3" style="font-style:italic">IFI27L2</text>
<rect x="555.58" y="1128.75" width="31.50" height="43.25" fill="#6cc160"/>
<line x1="571.33" y1="1301.50" x2="571.33" y2="1304.00" stroke="#666" stroke-width="1.4"/>
<text transform="translate(576.23,1309.5) rotate(-90)" text-anchor="end" font-size="29.3" style="font-style:italic">IFI27L1</text>
<rect x="590.77" y="1130.50" width="31.50" height="41.50" fill="#92c952"/>
<line x1="606.52" y1="1301.50" x2="606.52" y2="1304.00" stroke="#666" stroke-width="1.4"/>
<text transform="translate(611.42,1309.5) rotate(-90)" text-anchor="end" font-size="29.3" style="font-style:italic">IFIT3</text>
<rect x="625.96" y="1133.25" width="31.50" height="38.75" fill="#278e8c"/>
<line x1="641.71" y1="1301.50" x2="641.71" y2="1304.00" stroke="#666" stroke-width="1.4"/>
<text transform="translate(646.61,1309.5) rotate(-90)" text-anchor="end" font-size="29.3" style="font-style:italic">IFIT5</text>
<rect x="661.15" y="1147.25" width="31.50" height="24.75" fill="#dce23c"/>
<line x1="676.90" y1="1301.50" x2="676.90" y2="1304.00" stroke="#666" stroke-width="1.4"/>
<text transform="translate(681.80,1309.5) rotate(-90)" text-anchor="end" font-size="29.3" style="font-style:italic">IFITM2</text>
<rect x="696.34" y="1158.25" width="31.50" height="13.75" fill="#f5e42a"/>
<line x1="712.09" y1="1301.50" x2="712.09" y2="1304.00" stroke="#666" stroke-width="1.4"/>
<text transform="translate(716.99,1309.5) rotate(-90)" text-anchor="end" font-size="29.3" style="font-style:italic">IFIT2</text>
<rect x="731.53" y="1172.00" width="31.50" height="58.75" fill="#dbe03a"/>
<line x1="747.28" y1="1301.50" x2="747.28" y2="1304.00" stroke="#666" stroke-width="1.4"/>
<text transform="translate(752.18,1309.5) rotate(-90)" text-anchor="end" font-size="29.3" style="font-style:italic">IFITM10</text>
<rect x="766.72" y="1172.00" width="31.50" height="113.50" fill="#3d6290"/>
<line x1="782.47" y1="1301.50" x2="782.47" y2="1304.00" stroke="#666" stroke-width="1.4"/>
<text transform="translate(787.37,1309.5) rotate(-90)" text-anchor="end" font-size="29.3" style="font-style:italic">IFI30</text>
<text x="148.75" y="983.85" font-size="27" text-anchor="middle" fill="#d42a2a">*</text>
<text x="184.50" y="1015.10" font-size="27" text-anchor="middle" fill="#d42a2a">*</text>
<text x="219.50" y="1026.35" font-size="27" text-anchor="middle" fill="#d42a2a">*</text>
<text x="255.00" y="1040.10" font-size="27" text-anchor="middle" fill="#d42a2a">*</text>
<text x="290.00" y="1040.10" font-size="27" text-anchor="middle" fill="#d42a2a">*</text>
<text x="325.00" y="1057.60" font-size="27" text-anchor="middle" fill="#d42a2a">*</text>
<text x="812.5" y="1082.5" textLength="119.5" lengthAdjust="spacing">-log<tspan font-size="16" dy="7.5">10</tspan><tspan dy="-7.5">(padj)</tspan></text>
<rect x="842.00" y="1100.00" width="21.00" height="105.00" fill="url(#gViridis)"/>
<line x1="842.00" y1="1123.25" x2="846.50" y2="1123.25" stroke="#fff" stroke-width="1.6"/>
<line x1="858.50" y1="1123.25" x2="863.00" y2="1123.25" stroke="#fff" stroke-width="1.6"/>
<text x="870.00" y="1131.75">0.5</text>
<line x1="842.00" y1="1155.75" x2="846.50" y2="1155.75" stroke="#fff" stroke-width="1.6"/>
<line x1="858.50" y1="1155.75" x2="863.00" y2="1155.75" stroke="#fff" stroke-width="1.6"/>
<text x="870.00" y="1164.25">1.0</text>
<line x1="842.00" y1="1188.00" x2="846.50" y2="1188.00" stroke="#fff" stroke-width="1.6"/>
<line x1="858.50" y1="1188.00" x2="863.00" y2="1188.00" stroke="#fff" stroke-width="1.6"/>
<text x="870.00" y="1196.50">1.5</text>
<text x="5.50" y="1431.25" font-size="33" style="font-weight:bold">e</text>
<line x1="131.00" y1="1431.25" x2="131.00" y2="1770.30" stroke="#000" stroke-width="2.6"/>
<line x1="129.80" y1="1769.10" x2="812.00" y2="1769.10" stroke="#000" stroke-width="2.6"/>
<line x1="120.50" y1="1767.00" x2="131.00" y2="1767.00" stroke="#333" stroke-width="2.2"/>
<text x="117.80" y="1775.30" font-size="23.5" text-anchor="end">0</text>
<line x1="120.50" y1="1707.00" x2="131.00" y2="1707.00" stroke="#333" stroke-width="2.2"/>
<text x="117.80" y="1715.30" font-size="23.5" text-anchor="end">1</text>
<line x1="120.50" y1="1647.00" x2="131.00" y2="1647.00" stroke="#333" stroke-width="2.2"/>
<text x="117.80" y="1655.30" font-size="23.5" text-anchor="end">2</text>
<line x1="120.50" y1="1587.00" x2="131.00" y2="1587.00" stroke="#333" stroke-width="2.2"/>
<text x="117.80" y="1595.30" font-size="23.5" text-anchor="end">3</text>
<line x1="120.50" y1="1527.00" x2="131.00" y2="1527.00" stroke="#333" stroke-width="2.2"/>
<text x="117.80" y="1535.30" font-size="23.5" text-anchor="end">4</text>
<line x1="120.50" y1="1467.00" x2="131.00" y2="1467.00" stroke="#333" stroke-width="2.2"/>
<text x="117.80" y="1475.30" font-size="23.5" text-anchor="end">5</text>
<text transform="translate(51.3,1609.3) rotate(-90)" text-anchor="middle" font-size="25">Expression relative to Contol</text>
<text transform="translate(81.5,1606) rotate(-90)" text-anchor="middle">(Normailzed to <tspan style="font-style:italic">TBP</tspan>)</text>
<text x="183.75" y="1476.50" font-size="24.6">p=0.048</text>
<text x="350.50" y="1476.50" font-size="24.6">p=0.008</text>
<text x="520.50" y="1476.50" font-size="24.6">p=0.036</text>
<text x="688.75" y="1476.50" font-size="24.6">p=0.048</text>
<line x1="172.00" y1="1649.50" x2="172.00" y2="1686.25" stroke="#222" stroke-width="1.3"/>
<line x1="172.00" y1="1733.75" x2="172.00" y2="1746.25" stroke="#222" stroke-width="1.3"/>
<rect x="140.38" y="1686.25" width="63.25" height="47.50" fill="#332c8a" stroke="#222" stroke-width="1.3"/>
<line x1="140.38" y1="1711.75" x2="203.62" y2="1711.75" stroke="#222" stroke-width="1.6"/>
<line x1="339.50" y1="1714.25" x2="339.50" y2="1714.25" stroke="#222" stroke-width="1.3"/>
<line x1="339.50" y1="1731.75" x2="339.50" y2="1748.00" stroke="#222" stroke-width="1.3"/>
<rect x="307.88" y="1714.25" width="63.25" height="17.50" fill="#332c8a" stroke="#222" stroke-width="1.3"/>
<line x1="307.88" y1="1726.25" x2="371.12" y2="1726.25" stroke="#222" stroke-width="1.6"/>
<line x1="508.75" y1="1696.75" x2="508.75" y2="1701.25" stroke="#222" stroke-width="1.3"/>
<line x1="508.75" y1="1717.50" x2="508.75" y2="1733.00" stroke="#222" stroke-width="1.3"/>
<rect x="477.12" y="1701.25" width="63.25" height="16.25" fill="#332c8a" stroke="#222" stroke-width="1.3"/>
<line x1="477.12" y1="1710.25" x2="540.38" y2="1710.25" stroke="#222" stroke-width="1.6"/>
<line x1="676.75" y1="1700.00" x2="676.75" y2="1703.75" stroke="#222" stroke-width="1.3"/>
<line x1="676.75" y1="1724.50" x2="676.75" y2="1744.50" stroke="#222" stroke-width="1.3"/>
<rect x="645.12" y="1703.75" width="63.25" height="20.75" fill="#332c8a" stroke="#222" stroke-width="1.3"/>
<line x1="645.12" y1="1712.50" x2="708.38" y2="1712.50" stroke="#222" stroke-width="1.6"/>
<line x1="266.75" y1="1628.25" x2="266.75" y2="1632.50" stroke="#222" stroke-width="1.3"/>
<line x1="266.75" y1="1697.00" x2="266.75" y2="1716.75" stroke="#222" stroke-width="1.3"/>
<rect x="235.12" y="1632.50" width="63.25" height="64.50" fill="#f1e91f" stroke="#222" stroke-width="1.3"/>
<line x1="235.12" y1="1668.25" x2="298.38" y2="1668.25" stroke="#222" stroke-width="1.6"/>
<line x1="434.25" y1="1672.50" x2="434.25" y2="1676.75" stroke="#222" stroke-width="1.3"/>
<line x1="434.25" y1="1687.50" x2="434.25" y2="1690.75" stroke="#222" stroke-width="1.3"/>
<rect x="402.62" y="1676.75" width="63.25" height="10.75" fill="#f1e91f" stroke="#222" stroke-width="1.3"/>
<line x1="402.62" y1="1683.25" x2="465.88" y2="1683.25" stroke="#222" stroke-width="1.6"/>
<line x1="603.25" y1="1611.25" x2="603.25" y2="1656.25" stroke="#222" stroke-width="1.3"/>
<line x1="603.25" y1="1702.50" x2="603.25" y2="1704.50" stroke="#222" stroke-width="1.3"/>
<rect x="571.62" y="1656.25" width="63.25" height="46.25" fill="#f1e91f" stroke="#222" stroke-width="1.3"/>
<line x1="571.62" y1="1696.75" x2="634.88" y2="1696.75" stroke="#222" stroke-width="1.6"/>
<line x1="771.25" y1="1681.25" x2="771.25" y2="1690.25" stroke="#222" stroke-width="1.3"/>
<line x1="771.25" y1="1705.00" x2="771.25" y2="1705.00" stroke="#222" stroke-width="1.3"/>
<rect x="739.62" y="1690.25" width="63.25" height="14.75" fill="#f1e91f" stroke="#222" stroke-width="1.3"/>
<line x1="739.62" y1="1701.75" x2="802.88" y2="1701.75" stroke="#222" stroke-width="1.6"/>
<circle cx="172.00" cy="1649.50" r="2.40" fill="#2a2850" stroke="#111" stroke-width="0.8"/>
<circle cx="172.00" cy="1673.50" r="2.40" fill="#2a2850" stroke="#111" stroke-width="0.8"/>
<circle cx="172.00" cy="1699.50" r="2.40" fill="#2a2850" stroke="#111" stroke-width="0.8"/>
<circle cx="172.00" cy="1711.75" r="2.40" fill="#2a2850" stroke="#111" stroke-width="0.8"/>
<circle cx="172.00" cy="1724.25" r="2.40" fill="#2a2850" stroke="#111" stroke-width="0.8"/>
<circle cx="171.00" cy="1746.00" r="2.40" fill="#2a2850" stroke="#111" stroke-width="0.8"/>
<circle cx="173.50" cy="1746.00" r="2.40" fill="#2a2850" stroke="#111" stroke-width="0.8"/>
<circle cx="339.50" cy="1583.25" r="2.40" fill="#2a2850" stroke="#111" stroke-width="0.8"/>
<circle cx="337.50" cy="1714.25" r="2.40" fill="#2a2850" stroke="#111" stroke-width="0.8"/>
<circle cx="341.50" cy="1714.25" r="2.40" fill="#2a2850" stroke="#111" stroke-width="0.8"/>
<circle cx="336.50" cy="1730.00" r="2.40" fill="#2a2850" stroke="#111" stroke-width="0.8"/>
<circle cx="339.50" cy="1730.00" r="2.40" fill="#2a2850" stroke="#111" stroke-width="0.8"/>
<circle cx="342.50" cy="1730.00" r="2.40" fill="#2a2850" stroke="#111" stroke-width="0.8"/>
<circle cx="339.50" cy="1748.00" r="2.40" fill="#2a2850" stroke="#111" stroke-width="0.8"/>
<circle cx="508.75" cy="1669.25" r="2.40" fill="#2a2850" stroke="#111" stroke-width="0.8"/>
<circle cx="508.75" cy="1696.75" r="2.40" fill="#2a2850" stroke="#111" stroke-width="0.8"/>
<circle cx="506.50" cy="1708.00" r="2.40" fill="#2a2850" stroke="#111" stroke-width="0.8"/>
<circle cx="511.00" cy="1708.00" r="2.40" fill="#2a2850" stroke="#111" stroke-width="0.8"/>
<circle cx="506.50" cy="1717.00" r="2.40" fill="#2a2850" stroke="#111" stroke-width="0.8"/>
<circle cx="511.00" cy="1717.00" r="2.40" fill="#2a2850" stroke="#111" stroke-width="0.8"/>
<circle cx="508.75" cy="1733.00" r="2.40" fill="#2a2850" stroke="#111" stroke-width="0.8"/>
<circle cx="676.75" cy="1635.50" r="2.40" fill="#2a2850" stroke="#111" stroke-width="0.8"/>
<circle cx="676.75" cy="1700.00" r="2.40" fill="#2a2850" stroke="#111" stroke-width="0.8"/>
<circle cx="673.50" cy="1712.50" r="2.40" fill="#2a2850" stroke="#111" stroke-width="0.8"/>
<circle cx="676.75" cy="1712.50" r="2.40" fill="#2a2850" stroke="#111" stroke-width="0.8"/>
<circle cx="680.00" cy="1712.50" r="2.40" fill="#2a2850" stroke="#111" stroke-width="0.8"/>
<circle cx="676.75" cy="1733.00" r="2.40" fill="#2a2850" stroke="#111" stroke-width="0.8"/>
<circle cx="676.75" cy="1744.50" r="2.40" fill="#2a2850" stroke="#111" stroke-width="0.8"/>
<circle cx="266.75" cy="1438.25" r="2.20" fill="none" stroke="#1a1a1a" stroke-width="1.1"/>
<circle cx="265.00" cy="1632.50" r="2.20" fill="none" stroke="#1a1a1a" stroke-width="1.1"/>
<circle cx="268.50" cy="1632.50" r="2.20" fill="none" stroke="#1a1a1a" stroke-width="1.1"/>
<circle cx="266.75" cy="1668.25" r="2.20" fill="none" stroke="#1a1a1a" stroke-width="1.1"/>
<circle cx="266.75" cy="1679.75" r="2.20" fill="none" stroke="#1a1a1a" stroke-width="1.1"/>
<circle cx="265.00" cy="1716.75" r="2.20" fill="none" stroke="#1a1a1a" stroke-width="1.1"/>
<circle cx="268.50" cy="1716.75" r="2.20" fill="none" stroke="#1a1a1a" stroke-width="1.1"/>
<circle cx="434.25" cy="1560.75" r="2.20" fill="none" stroke="#1a1a1a" stroke-width="1.1"/>
<circle cx="434.25" cy="1672.50" r="2.20" fill="none" stroke="#1a1a1a" stroke-width="1.1"/>
<circle cx="425.50" cy="1686.25" r="2.20" fill="none" stroke="#1a1a1a" stroke-width="1.1"/>
<circle cx="430.00" cy="1686.25" r="2.20" fill="none" stroke="#1a1a1a" stroke-width="1.1"/>
<circle cx="434.50" cy="1686.25" r="2.20" fill="none" stroke="#1a1a1a" stroke-width="1.1"/>
<circle cx="439.00" cy="1686.25" r="2.20" fill="none" stroke="#1a1a1a" stroke-width="1.1"/>
<circle cx="443.50" cy="1686.25" r="2.20" fill="none" stroke="#1a1a1a" stroke-width="1.1"/>
<circle cx="601.00" cy="1614.25" r="2.20" fill="none" stroke="#1a1a1a" stroke-width="1.1"/>
<circle cx="605.50" cy="1614.25" r="2.20" fill="none" stroke="#1a1a1a" stroke-width="1.1"/>
<circle cx="601.00" cy="1695.50" r="2.20" fill="none" stroke="#1a1a1a" stroke-width="1.1"/>
<circle cx="605.50" cy="1695.50" r="2.20" fill="none" stroke="#1a1a1a" stroke-width="1.1"/>
<circle cx="598.50" cy="1704.50" r="2.20" fill="none" stroke="#1a1a1a" stroke-width="1.1"/>
<circle cx="603.25" cy="1704.50" r="2.20" fill="none" stroke="#1a1a1a" stroke-width="1.1"/>
<circle cx="608.00" cy="1704.50" r="2.20" fill="none" stroke="#1a1a1a" stroke-width="1.1"/>
<circle cx="771.25" cy="1646.25" r="2.20" fill="none" stroke="#1a1a1a" stroke-width="1.1"/>
<circle cx="771.25" cy="1681.25" r="2.20" fill="none" stroke="#1a1a1a" stroke-width="1.1"/>
<circle cx="762.50" cy="1703.75" r="2.20" fill="none" stroke="#1a1a1a" stroke-width="1.1"/>
<circle cx="767.00" cy="1703.75" r="2.20" fill="none" stroke="#1a1a1a" stroke-width="1.1"/>
<circle cx="771.50" cy="1703.75" r="2.20" fill="none" stroke="#1a1a1a" stroke-width="1.1"/>
<circle cx="776.00" cy="1703.75" r="2.20" fill="none" stroke="#1a1a1a" stroke-width="1.1"/>
<circle cx="780.50" cy="1703.75" r="2.20" fill="none" stroke="#1a1a1a" stroke-width="1.1"/>
<line x1="219.50" y1="1769.00" x2="219.50" y2="1773.50" stroke="#333" stroke-width="2"/>
<text x="219.50" y="1797.50" text-anchor="middle" style="font-style:italic">IFI6</text>
<line x1="387.00" y1="1769.00" x2="387.00" y2="1773.50" stroke="#333" stroke-width="2"/>
<text x="387.00" y="1797.50" text-anchor="middle" style="font-style:italic">IFI27</text>
<line x1="554.50" y1="1769.00" x2="554.50" y2="1773.50" stroke="#333" stroke-width="2"/>
<text x="554.50" y="1797.50" text-anchor="middle" style="font-style:italic">IFI44</text>
<line x1="722.00" y1="1769.00" x2="722.00" y2="1773.50" stroke="#333" stroke-width="2"/>
<text x="722.00" y="1797.50" text-anchor="middle" style="font-style:italic">IFITM1</text>
<line x1="869.40" y1="1568.20" x2="869.40" y2="1599.60" stroke="#222" stroke-width="1.3"/>
<rect x="855.00" y="1574.30" width="28.90" height="19.30" fill="#332c8a" stroke="#222" stroke-width="1.3"/>
<line x1="855.00" y1="1584.90" x2="883.90" y2="1584.90" stroke="#222" stroke-width="1.6"/>
<text x="892.00" y="1596.40">Ctrl</text>
<line x1="869.40" y1="1607.90" x2="869.40" y2="1638.90" stroke="#222" stroke-width="1.3"/>
<rect x="855.00" y="1613.20" width="28.90" height="19.70" fill="#f1e91f" stroke="#222" stroke-width="1.3"/>
<line x1="855.00" y1="1622.90" x2="883.90" y2="1622.90" stroke="#222" stroke-width="1.6"/>
<text x="892.00" y="1635.40">Cov</text>
<text x="9.80" y="1861.50" font-size="33" style="font-weight:bold">f</text>
<text x="343.40" y="1876.90" font-size="29" textLength="506.60" lengthAdjust="spacing">CellPhoneDB Receptor-Ligand pair GO</text>
<line x1="413.75" y1="1910.50" x2="413.75" y2="2261.20" stroke="#000" stroke-width="2.4"/>
<line x1="412.50" y1="2260.00" x2="841.80" y2="2260.00" stroke="#000" stroke-width="2.4"/>
<line x1="406.50" y1="1943.25" x2="413.75" y2="1943.25" stroke="#333" stroke-width="2.2"/>
<line x1="406.50" y1="1990.75" x2="413.75" y2="1990.75" stroke="#333" stroke-width="2.2"/>
<line x1="406.50" y1="2043.75" x2="413.75" y2="2043.75" stroke="#333" stroke-width="2.2"/>
<line x1="406.50" y1="2095.75" x2="413.75" y2="2095.75" stroke="#333" stroke-width="2.2"/>
<line x1="406.50" y1="2161.25" x2="413.75" y2="2161.25" stroke="#333" stroke-width="2.2"/>
<line x1="406.50" y1="2222.50" x2="413.75" y2="2222.50" stroke="#333" stroke-width="2.2"/>
<text x="401.25" y="1950.00" text-anchor="end">chemotaxis</text>
<text x="401.25" y="1997.50" text-anchor="end">blood vessel development</text>
<text x="401.25" y="2050.00" text-anchor="end">angiogenesis</text>
<text x="401.25" y="2090.00" text-anchor="end">regulation of cytokine production</text>
<text x="401.25" y="2119.50" text-anchor="end">involved in immune response</text>
<text x="395.00" y="2158.75" text-anchor="end">positive regulation of</text>
<text x="401.25" y="2188.75" text-anchor="end">cytokine production</text>
<text x="401.25" y="2228.75" text-anchor="end">VEGFA−VEGFR2 signaling pathway</text>
<line x1="474.80" y1="2260.00" x2="474.80" y2="2265.50" stroke="#333" stroke-width="2"/>
<text x="478.50" y="2288.20" text-anchor="middle">10</text>
<line x1="561.10" y1="2260.00" x2="561.10" y2="2265.50" stroke="#333" stroke-width="2"/>
<text x="564.40" y="2288.20" text-anchor="middle">20</text>
<line x1="648.20" y1="2260.00" x2="648.20" y2="2265.50" stroke="#333" stroke-width="2"/>
<text x="651.40" y="2288.20" text-anchor="middle">30</text>
<line x1="734.70" y1="2260.00" x2="734.70" y2="2265.50" stroke="#333" stroke-width="2"/>
<text x="737.60" y="2288.20" text-anchor="middle">40</text>
<line x1="821.50" y1="2260.00" x2="821.50" y2="2265.50" stroke="#333" stroke-width="2"/>
<text x="824.50" y="2288.20" text-anchor="middle">50</text>
<text x="631.20" y="2314.50" text-anchor="middle">−log(p−value)</text>
<circle cx="784.60" cy="1942.90" r="32.40" fill="#8c24a2"/>
<circle cx="661.00" cy="1990.70" r="26.60" fill="#62329c"/>
<circle cx="655.00" cy="2042.90" r="24.50" fill="#9526a2"/>
<circle cx="474.20" cy="2095.60" r="12.90" fill="#9b28a0"/>
<circle cx="470.90" cy="2161.50" r="15.90" fill="#2f2e88"/>
<circle cx="433.00" cy="2222.50" r="12.75" fill="#2f2f86"/>
<text x="912.00" y="1873.00" text-anchor="middle">Gene</text>
<text x="914.80" y="1903.30" text-anchor="middle">number</text>
<circle cx="897.30" cy="1927.50" r="13.70" fill="#000"/>
<text x="937.00" y="1934.60">10</text>
<circle cx="897.30" cy="1971.40" r="20.00" fill="#000"/>
<text x="937.00" y="1977.50">20</text>
<circle cx="897.30" cy="2031.90" r="33.00" fill="#000"/>
<text x="937.00" y="2037.90">40</text>
<text x="916.00" y="2103.80" text-anchor="middle">Ratio</text>
<rect x="867.00" y="2119.80" width="36.80" height="184.60" fill="url(#gRatio)"/>
<line x1="867.00" y1="2141.80" x2="872.50" y2="2141.80" stroke="#fff" stroke-width="1.6"/>
<line x1="898.30" y1="2141.80" x2="903.80" y2="2141.80" stroke="#fff" stroke-width="1.6"/>
<text x="915.80" y="2148.70">0.20</text>
<line x1="867.00" y1="2187.40" x2="872.50" y2="2187.40" stroke="#fff" stroke-width="1.6"/>
<line x1="898.30" y1="2187.40" x2="903.80" y2="2187.40" stroke="#fff" stroke-width="1.6"/>
<text x="915.80" y="2194.30">0.15</text>
<line x1="867.00" y1="2232.40" x2="872.50" y2="2232.40" stroke="#fff" stroke-width="1.6"/>
<line x1="898.30" y1="2232.40" x2="903.80" y2="2232.40" stroke="#fff" stroke-width="1.6"/>
<text x="915.80" y="2239.30">0.10</text>
<line x1="867.00" y1="2278.00" x2="872.50" y2="2278.00" stroke="#fff" stroke-width="1.6"/>
<line x1="898.30" y1="2278.00" x2="903.80" y2="2278.00" stroke="#fff" stroke-width="1.6"/>
<text x="915.80" y="2284.90">0.05</text>
<text x="1073.00" y="996.25" font-size="33" style="font-weight:bold">g</text>
<text x="1310.75" y="996.25" textLength="126" lengthAdjust="spacing">log<tspan font-size="15" dy="6">10</tspan><tspan dy="-6">(mean)</tspan></text>
<rect x="1292.50" y="1010.00" width="155.75" height="31.25" fill="url(#gMean)"/>
<line x1="1334.50" y1="1010.00" x2="1334.50" y2="1015.50" stroke="#fff" stroke-width="1.6"/>
<line x1="1334.50" y1="1035.75" x2="1334.50" y2="1041.25" stroke="#fff" stroke-width="1.6"/>
<text x="1334.50" y="1065.00" font-size="23" text-anchor="middle">1</text>
<line x1="1378.75" y1="1010.00" x2="1378.75" y2="1015.50" stroke="#fff" stroke-width="1.6"/>
<line x1="1378.75" y1="1035.75" x2="1378.75" y2="1041.25" stroke="#fff" stroke-width="1.6"/>
<text x="1378.75" y="1065.00" font-size="23" text-anchor="middle">2</text>
<line x1="1422.50" y1="1010.00" x2="1422.50" y2="1015.50" stroke="#fff" stroke-width="1.6"/>
<line x1="1422.50" y1="1035.75" x2="1422.50" y2="1041.25" stroke="#fff" stroke-width="1.6"/>
<text x="1422.50" y="1065.00" font-size="23" text-anchor="middle">3</text>
<text x="1648.1" y="988.4" textLength="62" lengthAdjust="spacing">−log<tspan font-size="15" dy="6">10</tspan></text>
<text x="1589.70" y="1018.00" textLength="178.00" lengthAdjust="spacing">(pvalue + 0.001)</text>
<circle cx="1633.60" cy="1036.20" r="4.10" fill="#000"/>
<text x="1633.60" y="1064.80" font-size="22" text-anchor="middle" textLength="33.60" lengthAdjust="spacing">1.5</text>
<circle cx="1678.00" cy="1036.20" r="7.00" fill="#000"/>
<text x="1678.00" y="1064.80" font-size="22" text-anchor="middle" textLength="33.60" lengthAdjust="spacing">2.5</text>
<circle cx="1727.20" cy="1036.20" r="8.00" fill="#000"/>
<text x="1727.20" y="1064.80" font-size="22" text-anchor="middle" textLength="33.60" lengthAdjust="spacing">3.0</text>
<line x1="1276.80" y1="1098.80" x2="1276.80" y2="2128.40" stroke="#eeeeee" stroke-width="1.1"/>
<line x1="1299.02" y1="1098.80" x2="1299.02" y2="2128.40" stroke="#eeeeee" stroke-width="1.1"/>
<line x1="1321.25" y1="1098.80" x2="1321.25" y2="2128.40" stroke="#eeeeee" stroke-width="1.1"/>
<line x1="1343.47" y1="1098.80" x2="1343.47" y2="2128.40" stroke="#eeeeee" stroke-width="1.1"/>
<line x1="1365.70" y1="1098.80" x2="1365.70" y2="2128.40" stroke="#eeeeee" stroke-width="1.1"/>
<line x1="1387.92" y1="1098.80" x2="1387.92" y2="2128.40" stroke="#eeeeee" stroke-width="1.1"/>
<line x1="1410.15" y1="1098.80" x2="1410.15" y2="2128.40" stroke="#eeeeee" stroke-width="1.1"/>
<line x1="1432.38" y1="1098.80" x2="1432.38" y2="2128.40" stroke="#eeeeee" stroke-width="1.1"/>
<line x1="1454.60" y1="1098.80" x2="1454.60" y2="2128.40" stroke="#eeeeee" stroke-width="1.1"/>
<line x1="1476.83" y1="1098.80" x2="1476.83" y2="2128.40" stroke="#eeeeee" stroke-width="1.1"/>
<line x1="1499.05" y1="1098.80" x2="1499.05" y2="2128.40" stroke="#eeeeee" stroke-width="1.1"/>
<line x1="1521.28" y1="1098.80" x2="1521.28" y2="2128.40" stroke="#eeeeee" stroke-width="1.1"/>
<line x1="1543.50" y1="1098.80" x2="1543.50" y2="2128.40" stroke="#eeeeee" stroke-width="1.1"/>
<line x1="1565.72" y1="1098.80" x2="1565.72" y2="2128.40" stroke="#eeeeee" stroke-width="1.1"/>
<line x1="1587.95" y1="1098.80" x2="1587.95" y2="2128.40" stroke="#eeeeee" stroke-width="1.1"/>
<line x1="1610.17" y1="1098.80" x2="1610.17" y2="2128.40" stroke="#eeeeee" stroke-width="1.1"/>
<line x1="1632.40" y1="1098.80" x2="1632.40" y2="2128.40" stroke="#eeeeee" stroke-width="1.1"/>
<line x1="1654.62" y1="1098.80" x2="1654.62" y2="2128.40" stroke="#eeeeee" stroke-width="1.1"/>
<line x1="1676.85" y1="1098.80" x2="1676.85" y2="2128.40" stroke="#eeeeee" stroke-width="1.1"/>
<line x1="1699.08" y1="1098.80" x2="1699.08" y2="2128.40" stroke="#eeeeee" stroke-width="1.1"/>
<line x1="1721.30" y1="1098.80" x2="1721.30" y2="2128.40" stroke="#eeeeee" stroke-width="1.1"/>
<line x1="1743.53" y1="1098.80" x2="1743.53" y2="2128.40" stroke="#eeeeee" stroke-width="1.1"/>
<line x1="1765.75" y1="1098.80" x2="1765.75" y2="2128.40" stroke="#eeeeee" stroke-width="1.1"/>
<line x1="1787.97" y1="1098.80" x2="1787.97" y2="2128.40" stroke="#eeeeee" stroke-width="1.1"/>
<line x1="1810.20" y1="1098.80" x2="1810.20" y2="2128.40" stroke="#eeeeee" stroke-width="1.1"/>
<line x1="1832.42" y1="1098.80" x2="1832.42" y2="2128.40" stroke="#eeeeee" stroke-width="1.1"/>
<line x1="1854.65" y1="1098.80" x2="1854.65" y2="2128.40" stroke="#eeeeee" stroke-width="1.1"/>
<line x1="1876.88" y1="1098.80" x2="1876.88" y2="2128.40" stroke="#eeeeee" stroke-width="1.1"/>
<line x1="1899.10" y1="1098.80" x2="1899.10" y2="2128.40" stroke="#eeeeee" stroke-width="1.1"/>
<line x1="1921.33" y1="1098.80" x2="1921.33" y2="2128.40" stroke="#eeeeee" stroke-width="1.1"/>
<line x1="1943.55" y1="1098.80" x2="1943.55" y2="2128.40" stroke="#eeeeee" stroke-width="1.1"/>
<line x1="1965.78" y1="1098.80" x2="1965.78" y2="2128.40" stroke="#eeeeee" stroke-width="1.1"/>
<line x1="1988.00" y1="1098.80" x2="1988.00" y2="2128.40" stroke="#eeeeee" stroke-width="1.1"/>
<line x1="2010.22" y1="1098.80" x2="2010.22" y2="2128.40" stroke="#eeeeee" stroke-width="1.1"/>
<line x1="2032.45" y1="1098.80" x2="2032.45" y2="2128.40" stroke="#eeeeee" stroke-width="1.1"/>
<line x1="2054.68" y1="1098.80" x2="2054.68" y2="2128.40" stroke="#eeeeee" stroke-width="1.1"/>
<line x1="1263.60" y1="1125.50" x2="2068.60" y2="1125.50" stroke="#eeeeee" stroke-width="1.1"/>
<line x1="1263.60" y1="1169.87" x2="2068.60" y2="1169.87" stroke="#eeeeee" stroke-width="1.1"/>
<line x1="1263.60" y1="1214.24" x2="2068.60" y2="1214.24" stroke="#eeeeee" stroke-width="1.1"/>
<line x1="1263.60" y1="1258.61" x2="2068.60" y2="1258.61" stroke="#eeeeee" stroke-width="1.1"/>
<line x1="1263.60" y1="1302.98" x2="2068.60" y2="1302.98" stroke="#eeeeee" stroke-width="1.1"/>
<line x1="1263.60" y1="1347.35" x2="2068.60" y2="1347.35" stroke="#eeeeee" stroke-width="1.1"/>
<line x1="1263.60" y1="1391.72" x2="2068.60" y2="1391.72" stroke="#eeeeee" stroke-width="1.1"/>
<line x1="1263.60" y1="1436.09" x2="2068.60" y2="1436.09" stroke="#eeeeee" stroke-width="1.1"/>
<line x1="1263.60" y1="1480.46" x2="2068.60" y2="1480.46" stroke="#eeeeee" stroke-width="1.1"/>
<line x1="1263.60" y1="1524.83" x2="2068.60" y2="1524.83" stroke="#eeeeee" stroke-width="1.1"/>
<line x1="1263.60" y1="1569.20" x2="2068.60" y2="1569.20" stroke="#eeeeee" stroke-width="1.1"/>
<line x1="1263.60" y1="1613.57" x2="2068.60" y2="1613.57" stroke="#eeeeee" stroke-width="1.1"/>
<line x1="1263.60" y1="1657.94" x2="2068.60" y2="1657.94" stroke="#eeeeee" stroke-width="1.1"/>
<line x1="1263.60" y1="1702.31" x2="2068.60" y2="1702.31" stroke="#eeeeee" stroke-width="1.1"/>
<line x1="1263.60" y1="1746.68" x2="2068.60" y2="1746.68" stroke="#eeeeee" stroke-width="1.1"/>
<line x1="1263.60" y1="1791.05" x2="2068.60" y2="1791.05" stroke="#eeeeee" stroke-width="1.1"/>
<line x1="1263.60" y1="1835.42" x2="2068.60" y2="1835.42" stroke="#eeeeee" stroke-width="1.1"/>
<line x1="1263.60" y1="1879.79" x2="2068.60" y2="1879.79" stroke="#eeeeee" stroke-width="1.1"/>
<line x1="1263.60" y1="1924.16" x2="2068.60" y2="1924.16" stroke="#eeeeee" stroke-width="1.1"/>
<line x1="1263.60" y1="1968.53" x2="2068.60" y2="1968.53" stroke="#eeeeee" stroke-width="1.1"/>
<line x1="1263.60" y1="2012.90" x2="2068.60" y2="2012.90" stroke="#eeeeee" stroke-width="1.1"/>
<line x1="1263.60" y1="2057.27" x2="2068.60" y2="2057.27" stroke="#eeeeee" stroke-width="1.1"/>
<line x1="1263.60" y1="2101.64" x2="2068.60" y2="2101.64" stroke="#eeeeee" stroke-width="1.1"/>
<rect x="1263.60" y="1098.80" width="805.00" height="1029.60" fill="none" stroke="#333" stroke-width="2.6"/>
<line x1="1259.10" y1="1125.50" x2="1263.60" y2="1125.50" stroke="#333" stroke-width="2"/>
<text x="1252.50" y="1130.80" text-anchor="end">WNT5A_ROR1</text>
<line x1="1259.10" y1="1169.87" x2="1263.60" y2="1169.87" stroke="#333" stroke-width="2"/>
<text x="1252.50" y="1175.17" text-anchor="end">VEGFA_FLT1</text>
<line x1="1259.10" y1="1214.24" x2="1263.60" y2="1214.24" stroke="#333" stroke-width="2"/>
<text x="1252.50" y="1219.54" text-anchor="end">VEGFA_EPHB2</text>
<line x1="1259.10" y1="1258.61" x2="1263.60" y2="1258.61" stroke="#333" stroke-width="2"/>
<text x="1252.50" y="1263.91" text-anchor="end">TNFRSF10B_TNFSF10</text>
<line x1="1259.10" y1="1302.98" x2="1263.60" y2="1302.98" stroke="#333" stroke-width="2"/>
<text x="1252.50" y="1308.28" text-anchor="end">TNFRSF10A_TNFSF10</text>
<line x1="1259.10" y1="1347.35" x2="1263.60" y2="1347.35" stroke="#333" stroke-width="2"/>
<text x="1252.50" y="1352.65" text-anchor="end">SPN_SIGLEC1</text>
<line x1="1259.10" y1="1391.72" x2="1263.60" y2="1391.72" stroke="#333" stroke-width="2"/>
<text x="1252.50" y="1397.02" text-anchor="end">SEMA4A_PLXND1</text>
<line x1="1259.10" y1="1436.09" x2="1263.60" y2="1436.09" stroke="#333" stroke-width="2"/>
<text x="1252.50" y="1441.39" text-anchor="end">PTPRC_MRC1</text>
<line x1="1259.10" y1="1480.46" x2="1263.60" y2="1480.46" stroke="#333" stroke-width="2"/>
<text x="1252.50" y="1485.76" text-anchor="end">PLXNB2_PTN</text>
<line x1="1259.10" y1="1524.83" x2="1263.60" y2="1524.83" stroke="#333" stroke-width="2"/>
<text x="1252.50" y="1530.13" text-anchor="end">PDGFRA_PDGFC</text>
<line x1="1259.10" y1="1569.20" x2="1263.60" y2="1569.20" stroke="#333" stroke-width="2"/>
<text x="1252.50" y="1574.50" text-anchor="end">LGALS9_PTPRK</text>
<line x1="1259.10" y1="1613.57" x2="1263.60" y2="1613.57" stroke="#333" stroke-width="2"/>
<text x="1252.50" y="1618.87" text-anchor="end">LGALS9_MET</text>
<line x1="1259.10" y1="1657.94" x2="1263.60" y2="1657.94" stroke="#333" stroke-width="2"/>
<text x="1252.50" y="1663.24" text-anchor="end">LGALS9_COLEC12</text>
<line x1="1259.10" y1="1702.31" x2="1263.60" y2="1702.31" stroke="#333" stroke-width="2"/>
<text x="1252.50" y="1707.61" text-anchor="end">JAG1_NOTCH2</text>
<line x1="1259.10" y1="1746.68" x2="1263.60" y2="1746.68" stroke="#333" stroke-width="2"/>
<text x="1252.50" y="1751.98" text-anchor="end">IGF2_IGF1R</text>
<line x1="1259.10" y1="1791.05" x2="1263.60" y2="1791.05" stroke="#333" stroke-width="2"/>
<text x="1252.50" y="1796.35" text-anchor="end">IGF1_IGF1R</text>
<line x1="1259.10" y1="1835.42" x2="1263.60" y2="1835.42" stroke="#333" stroke-width="2"/>
<text x="1252.50" y="1840.72" text-anchor="end">FGF10_FGFR1</text>
<line x1="1259.10" y1="1879.79" x2="1263.60" y2="1879.79" stroke="#333" stroke-width="2"/>
<text x="1252.50" y="1885.09" text-anchor="end">EPHB2_EFNA5</text>
<line x1="1259.10" y1="1924.16" x2="1263.60" y2="1924.16" stroke="#333" stroke-width="2"/>
<text x="1252.50" y="1929.46" text-anchor="end">DSG2_DSC3</text>
<line x1="1259.10" y1="1968.53" x2="1263.60" y2="1968.53" stroke="#333" stroke-width="2"/>
<text x="1252.50" y="1973.83" text-anchor="end">DLK1_NOTCH2</text>
<line x1="1259.10" y1="2012.90" x2="1263.60" y2="2012.90" stroke="#333" stroke-width="2"/>
<text x="1252.50" y="2018.20" text-anchor="end">CD94:NKG2E_HLA−E</text>
<line x1="1259.10" y1="2057.27" x2="1263.60" y2="2057.27" stroke="#333" stroke-width="2"/>
<text x="1252.50" y="2062.57" text-anchor="end">CD74_APP</text>
<line x1="1259.10" y1="2101.64" x2="1263.60" y2="2101.64" stroke="#333" stroke-width="2"/>
<text x="1252.50" y="2106.94" text-anchor="end">C5AR1_RPS19</text>
<line x1="1276.80" y1="2128.40" x2="1276.80" y2="2132.90" stroke="#333" stroke-width="2"/>
<text transform="translate(1285.60,2135.4) rotate(-90)" text-anchor="end">APC.M.EVT</text>
<line x1="1299.02" y1="2128.40" x2="1299.02" y2="2132.90" stroke="#333" stroke-width="2"/>
<text transform="translate(1307.82,2135.4) rotate(-90)" text-anchor="end">APC.M.M2</text>
<line x1="1321.25" y1="2128.40" x2="1321.25" y2="2132.90" stroke="#333" stroke-width="2"/>
<text transform="translate(1330.05,2135.4) rotate(-90)" text-anchor="end">APC.M.ST</text>
<line x1="1343.47" y1="2128.40" x2="1343.47" y2="2132.90" stroke="#333" stroke-width="2"/>
<text transform="translate(1352.27,2135.4) rotate(-90)" text-anchor="end">APC.M.Tcell</text>
<line x1="1365.70" y1="2128.40" x2="1365.70" y2="2132.90" stroke="#333" stroke-width="2"/>
<text transform="translate(1374.50,2135.4) rotate(-90)" text-anchor="end">DC.DC</text>
<line x1="1387.92" y1="2128.40" x2="1387.92" y2="2132.90" stroke="#333" stroke-width="2"/>
<text transform="translate(1396.72,2135.4) rotate(-90)" text-anchor="end">DC.EVT</text>
<line x1="1410.15" y1="2128.40" x2="1410.15" y2="2132.90" stroke="#333" stroke-width="2"/>
<text transform="translate(1418.95,2135.4) rotate(-90)" text-anchor="end">DC.M2</text>
<line x1="1432.38" y1="2128.40" x2="1432.38" y2="2132.90" stroke="#333" stroke-width="2"/>
<text transform="translate(1441.17,2135.4) rotate(-90)" text-anchor="end">DC.ST</text>
<line x1="1454.60" y1="2128.40" x2="1454.60" y2="2132.90" stroke="#333" stroke-width="2"/>
<text transform="translate(1463.40,2135.4) rotate(-90)" text-anchor="end">DC.Tcell</text>
<line x1="1476.83" y1="2128.40" x2="1476.83" y2="2132.90" stroke="#333" stroke-width="2"/>
<text transform="translate(1485.62,2135.4) rotate(-90)" text-anchor="end">EVT.EVT</text>
<line x1="1499.05" y1="2128.40" x2="1499.05" y2="2132.90" stroke="#333" stroke-width="2"/>
<text transform="translate(1507.85,2135.4) rotate(-90)" text-anchor="end">EVT.M2</text>
<line x1="1521.28" y1="2128.40" x2="1521.28" y2="2132.90" stroke="#333" stroke-width="2"/>
<text transform="translate(1530.08,2135.4) rotate(-90)" text-anchor="end">EVT.ST</text>
<line x1="1543.50" y1="2128.40" x2="1543.50" y2="2132.90" stroke="#333" stroke-width="2"/>
<text transform="translate(1552.30,2135.4) rotate(-90)" text-anchor="end">EVT.VCT</text>
<line x1="1565.72" y1="2128.40" x2="1565.72" y2="2132.90" stroke="#333" stroke-width="2"/>
<text transform="translate(1574.52,2135.4) rotate(-90)" text-anchor="end">HB.EVT</text>
<line x1="1587.95" y1="2128.40" x2="1587.95" y2="2132.90" stroke="#333" stroke-width="2"/>
<text transform="translate(1596.75,2135.4) rotate(-90)" text-anchor="end">HB.VCT</text>
<line x1="1610.17" y1="2128.40" x2="1610.17" y2="2132.90" stroke="#333" stroke-width="2"/>
<text transform="translate(1618.97,2135.4) rotate(-90)" text-anchor="end">M2.M2</text>
<line x1="1632.40" y1="2128.40" x2="1632.40" y2="2132.90" stroke="#333" stroke-width="2"/>
<text transform="translate(1641.20,2135.4) rotate(-90)" text-anchor="end">M2.VCT</text>
<line x1="1654.62" y1="2128.40" x2="1654.62" y2="2132.90" stroke="#333" stroke-width="2"/>
<text transform="translate(1663.42,2135.4) rotate(-90)" text-anchor="end">NK1.DC</text>
<line x1="1676.85" y1="2128.40" x2="1676.85" y2="2132.90" stroke="#333" stroke-width="2"/>
<text transform="translate(1685.65,2135.4) rotate(-90)" text-anchor="end">NK1.EVT</text>
<line x1="1699.08" y1="2128.40" x2="1699.08" y2="2132.90" stroke="#333" stroke-width="2"/>
<text transform="translate(1707.88,2135.4) rotate(-90)" text-anchor="end">NK1.HB</text>
<line x1="1721.30" y1="2128.40" x2="1721.30" y2="2132.90" stroke="#333" stroke-width="2"/>
<text transform="translate(1730.10,2135.4) rotate(-90)" text-anchor="end">NK1.M2</text>
<line x1="1743.53" y1="2128.40" x2="1743.53" y2="2132.90" stroke="#333" stroke-width="2"/>
<text transform="translate(1752.33,2135.4) rotate(-90)" text-anchor="end">NK1.ST</text>
<line x1="1765.75" y1="2128.40" x2="1765.75" y2="2132.90" stroke="#333" stroke-width="2"/>
<text transform="translate(1774.55,2135.4) rotate(-90)" text-anchor="end">NK1.VCT</text>
<line x1="1787.97" y1="2128.40" x2="1787.97" y2="2132.90" stroke="#333" stroke-width="2"/>
<text transform="translate(1796.77,2135.4) rotate(-90)" text-anchor="end">NK2.EVT</text>
<line x1="1810.20" y1="2128.40" x2="1810.20" y2="2132.90" stroke="#333" stroke-width="2"/>
<text transform="translate(1819.00,2135.4) rotate(-90)" text-anchor="end">NK2.VCT</text>
<line x1="1832.42" y1="2128.40" x2="1832.42" y2="2132.90" stroke="#333" stroke-width="2"/>
<text transform="translate(1841.22,2135.4) rotate(-90)" text-anchor="end">ST.EVT</text>
<line x1="1854.65" y1="2128.40" x2="1854.65" y2="2132.90" stroke="#333" stroke-width="2"/>
<text transform="translate(1863.45,2135.4) rotate(-90)" text-anchor="end">ST.HB</text>
<line x1="1876.88" y1="2128.40" x2="1876.88" y2="2132.90" stroke="#333" stroke-width="2"/>
<text transform="translate(1885.67,2135.4) rotate(-90)" text-anchor="end">ST.M2</text>
<line x1="1899.10" y1="2128.40" x2="1899.10" y2="2132.90" stroke="#333" stroke-width="2"/>
<text transform="translate(1907.90,2135.4) rotate(-90)" text-anchor="end">ST.VCT</text>
<line x1="1921.33" y1="2128.40" x2="1921.33" y2="2132.90" stroke="#333" stroke-width="2"/>
<text transform="translate(1930.12,2135.4) rotate(-90)" text-anchor="end">Tcell.EVT</text>
<line x1="1943.55" y1="2128.40" x2="1943.55" y2="2132.90" stroke="#333" stroke-width="2"/>
<text transform="translate(1952.35,2135.4) rotate(-90)" text-anchor="end">Tcell.ST</text>
<line x1="1965.78" y1="2128.40" x2="1965.78" y2="2132.90" stroke="#333" stroke-width="2"/>
<text transform="translate(1974.58,2135.4) rotate(-90)" text-anchor="end">Tcell.VCT</text>
<line x1="1988.00" y1="2128.40" x2="1988.00" y2="2132.90" stroke="#333" stroke-width="2"/>
<text transform="translate(1996.80,2135.4) rotate(-90)" text-anchor="end">VCT/ST.EVT</text>
<line x1="2010.22" y1="2128.40" x2="2010.22" y2="2132.90" stroke="#333" stroke-width="2"/>
<text transform="translate(2019.02,2135.4) rotate(-90)" text-anchor="end">VCT/ST.VCT</text>
<line x1="2032.45" y1="2128.40" x2="2032.45" y2="2132.90" stroke="#333" stroke-width="2"/>
<text transform="translate(2041.25,2135.4) rotate(-90)" text-anchor="end">VCT.M2</text>
<line x1="2054.68" y1="2128.40" x2="2054.68" y2="2132.90" stroke="#333" stroke-width="2"/>
<text transform="translate(2063.48,2135.4) rotate(-90)" text-anchor="end">VCT.VCT</text>
<circle cx="1699.08" cy="1125.50" r="7.70" fill="#6a1a6c"/>
<circle cx="1721.30" cy="1125.50" r="7.70" fill="#3f1a70"/>
<circle cx="1854.65" cy="1125.50" r="7.70" fill="#6a1a6c"/>
<circle cx="1876.88" cy="1125.50" r="7.70" fill="#3d1a6e"/>
<circle cx="1321.25" cy="1169.87" r="7.90" fill="#c42a30"/>
<circle cx="1676.85" cy="1169.87" r="7.70" fill="#e0562a"/>
<circle cx="1743.53" cy="1169.87" r="7.70" fill="#b8263a"/>
<circle cx="1921.33" cy="1169.87" r="7.70" fill="#e0562a"/>
<circle cx="1943.55" cy="1169.87" r="7.70" fill="#b8263a"/>
<circle cx="1299.02" cy="1214.24" r="7.90" fill="#4a1a6e"/>
<circle cx="1321.25" cy="1214.24" r="7.90" fill="#4a1a6e"/>
<circle cx="1343.47" cy="1258.61" r="2.70" fill="#2e1a4e"/>
<circle cx="1365.70" cy="1258.61" r="4.00" fill="#4a1a6a"/>
<circle cx="1410.15" cy="1258.61" r="5.60" fill="#4b1a70"/>
<circle cx="1432.38" cy="1258.61" r="7.90" fill="#4a1a70"/>
<circle cx="1454.60" cy="1258.61" r="5.60" fill="#4c1a6e"/>
<circle cx="1387.92" cy="1302.98" r="7.90" fill="#7e1a62"/>
<circle cx="1454.60" cy="1302.98" r="2.30" fill="#2e1a4e"/>
<circle cx="1676.85" cy="1302.98" r="7.70" fill="#7a1a62"/>
<circle cx="1654.62" cy="1347.35" r="7.90" fill="#4e1a72"/>
<circle cx="1299.02" cy="1391.72" r="7.90" fill="#4a1a6e"/>
<circle cx="1499.05" cy="1436.09" r="7.90" fill="#8a1a5e"/>
<circle cx="2032.45" cy="1436.09" r="7.90" fill="#861a5e"/>
<circle cx="1521.28" cy="1480.46" r="7.90" fill="#22206e"/>
<circle cx="1543.50" cy="1480.46" r="7.90" fill="#22206e"/>
<circle cx="1410.15" cy="1524.83" r="7.90" fill="#7e1a60"/>
<circle cx="1632.40" cy="1569.20" r="7.90" fill="#6a1a68"/>
<circle cx="1765.75" cy="1569.20" r="4.70" fill="#6a1a6a"/>
<circle cx="1632.40" cy="1613.57" r="7.90" fill="#5a1a6c"/>
<circle cx="1765.75" cy="1613.57" r="7.90" fill="#521a72"/>
<circle cx="1610.17" cy="1657.94" r="7.90" fill="#a01a4e"/>
<circle cx="1721.30" cy="1657.94" r="7.90" fill="#a01a4e"/>
<circle cx="1276.80" cy="1702.31" r="4.70" fill="#5a1a6a"/>
<circle cx="1476.83" cy="1702.31" r="7.90" fill="#521a72"/>
<circle cx="1565.72" cy="1702.31" r="4.50" fill="#4a1a6c"/>
<circle cx="1787.97" cy="1702.31" r="7.90" fill="#5e1a6c"/>
<circle cx="1832.42" cy="1702.31" r="7.90" fill="#4e1a72"/>
<circle cx="1921.33" cy="1702.31" r="3.00" fill="#4a1a6e"/>
<circle cx="1988.00" cy="1702.31" r="6.30" fill="#4e1a72"/>
<circle cx="1587.95" cy="1746.68" r="7.90" fill="#8a1a5a"/>
<circle cx="1810.20" cy="1746.68" r="7.90" fill="#8a1a5a"/>
<circle cx="1965.78" cy="1791.05" r="7.90" fill="#80185e"/>
<circle cx="2010.22" cy="1791.05" r="7.90" fill="#80185e"/>
<circle cx="1787.97" cy="1835.42" r="7.90" fill="#6a1a68"/>
<circle cx="1587.95" cy="1879.79" r="7.90" fill="#3d1a72"/>
<circle cx="1632.40" cy="1879.79" r="7.90" fill="#3d1a72"/>
<circle cx="1899.10" cy="1879.79" r="7.90" fill="#3d1a72"/>
<circle cx="2054.68" cy="1924.16" r="7.90" fill="#2a1f70"/>
<circle cx="1387.92" cy="1968.53" r="4.50" fill="#9a1a52"/>
<circle cx="1832.42" cy="1968.53" r="7.90" fill="#8e1a58"/>
<circle cx="1921.33" cy="1968.53" r="3.50" fill="#9a1a50"/>
<circle cx="1743.53" cy="2012.90" r="7.90" fill="#3f1a72"/>
<circle cx="1321.25" cy="2057.27" r="7.90" fill="#a01a4e"/>
<circle cx="1521.28" cy="2101.64" r="5.60" fill="#521a72"/>
<text transform="translate(1084.5,2201.5) rotate(-90)" text-anchor="middle">R-L Pairs</text>
<line x1="1101.50" y1="2144.60" x2="1101.50" y2="2261.50" stroke="#222" stroke-width="3.2"/>
<line x1="1100.00" y1="2260.00" x2="1217.80" y2="2260.00" stroke="#222" stroke-width="3.2"/>
<text x="1080.00" y="2292.30" textLength="160.00" lengthAdjust="spacing">R-L Cell Types</text>
</svg>
</body></html>
